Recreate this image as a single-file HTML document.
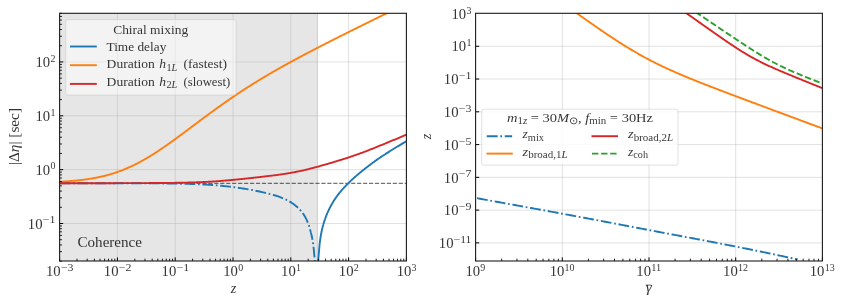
<!DOCTYPE html>
<html><head><meta charset="utf-8"><title>plot</title>
<style>html,body{margin:0;padding:0;background:#fff;}body{width:843px;height:304px;position:relative;overflow:hidden;font-family:"Liberation Serif",serif;}</style>
</head><body>
<svg width="843" height="304" viewBox="0 0 843 304" style="position:absolute;left:0;top:0;opacity:0.999;will-change:transform">
<rect x="0" y="0" width="843" height="304" fill="#fff"/>
<defs>
<clipPath id="cl"><rect x="59.6" y="13.3" width="346.79999999999995" height="247.7"/></clipPath>
<clipPath id="cr"><rect x="475.6" y="13.3" width="346.79999999999995" height="247.7"/></clipPath>
</defs>
<rect x="59.6" y="13.3" width="258.30" height="247.7" fill="#808080" fill-opacity="0.2"/>
<line x1="317.40" y1="13.3" x2="317.40" y2="261.0" stroke="#808080" stroke-opacity="0.2" stroke-width="1.2"/>
<line x1="117.40" y1="13.3" x2="117.40" y2="261.0" stroke="#b0b0b0" stroke-opacity="0.38" stroke-width="1"/>
<line x1="175.20" y1="13.3" x2="175.20" y2="261.0" stroke="#b0b0b0" stroke-opacity="0.38" stroke-width="1"/>
<line x1="233.00" y1="13.3" x2="233.00" y2="261.0" stroke="#b0b0b0" stroke-opacity="0.38" stroke-width="1"/>
<line x1="290.80" y1="13.3" x2="290.80" y2="261.0" stroke="#b0b0b0" stroke-opacity="0.38" stroke-width="1"/>
<line x1="348.60" y1="13.3" x2="348.60" y2="261.0" stroke="#b0b0b0" stroke-opacity="0.38" stroke-width="1"/>
<line x1="59.6" y1="223.50" x2="406.4" y2="223.50" stroke="#b0b0b0" stroke-opacity="0.38" stroke-width="1"/>
<line x1="59.6" y1="169.65" x2="406.4" y2="169.65" stroke="#b0b0b0" stroke-opacity="0.38" stroke-width="1"/>
<line x1="59.6" y1="115.80" x2="406.4" y2="115.80" stroke="#b0b0b0" stroke-opacity="0.38" stroke-width="1"/>
<line x1="59.6" y1="61.95" x2="406.4" y2="61.95" stroke="#b0b0b0" stroke-opacity="0.38" stroke-width="1"/>
<g clip-path="url(#cl)" fill="none" stroke-linejoin="round">
<line x1="59.6" y1="183.4" x2="406.4" y2="183.4" stroke="#000" stroke-opacity="0.55" stroke-width="1.1" stroke-dasharray="4.15 1.8"/>
<path d="M59.60,183.21 L60.85,183.21 L62.10,183.21 L63.35,183.21 L64.60,183.21 L65.84,183.22 L67.09,183.22 L68.34,183.22 L69.59,183.22 L70.84,183.22 L72.09,183.22 L73.34,183.22 L74.59,183.22 L75.84,183.22 L77.09,183.22 L78.33,183.22 L79.58,183.22 L80.83,183.22 L82.08,183.22 L83.33,183.22 L84.58,183.22 L85.83,183.22 L87.08,183.22 L88.33,183.22 L89.57,183.22 L90.82,183.22 L92.07,183.22 L93.32,183.23 L94.57,183.23 L95.82,183.23 L97.07,183.23 L98.32,183.23 L99.57,183.23 L100.82,183.23 L102.06,183.23 L103.31,183.23 L104.56,183.23 L105.81,183.23 L107.06,183.24 L108.31,183.24 L109.56,183.24 L110.81,183.24 L112.06,183.24 L113.30,183.24 L114.55,183.25 L115.80,183.25 L117.05,183.25 L118.30,183.25 L119.55,183.25 L120.80,183.25 L122.05,183.26 L123.30,183.26 L124.55,183.26 L125.79,183.26 L127.04,183.27 L128.29,183.27 L129.54,183.27 L130.79,183.28 L132.04,183.28 L133.29,183.28 L134.54,183.29 L135.79,183.29 L137.03,183.30 L138.28,183.30 L139.53,183.30 L140.78,183.31 L142.03,183.31 L143.28,183.32 L144.53,183.33 L145.78,183.33 L147.03,183.34 L148.28,183.34 L149.52,183.35 L150.77,183.36 L152.02,183.37 L153.27,183.37 L154.52,183.38 L155.77,183.39 L157.02,183.40 L158.27,183.41 L159.52,183.42 L160.76,183.43 L162.01,183.44 L163.26,183.45 L164.51,183.47 L165.76,183.48 L167.01,183.49 L168.26,183.51 L169.51,183.52 L170.76,183.54 L172.01,183.56 L173.25,183.58 L174.50,183.59 L175.75,183.61 L177.00,183.63 L178.25,183.66 L179.50,183.68 L180.75,183.70 L182.00,183.73 L183.25,183.76 L184.49,183.78 L185.74,183.81 L186.99,183.84 L188.24,183.88 L189.49,183.91 L190.74,183.95 L191.99,183.99 L193.24,184.03 L194.49,184.07 L195.73,184.11 L196.98,184.16 L198.23,184.21 L199.48,184.26 L200.73,184.32 L201.98,184.37 L203.23,184.43 L204.48,184.50 L205.73,184.56 L206.98,184.64 L208.22,184.71 L209.47,184.79 L210.72,184.87 L211.97,184.96 L213.22,185.05 L214.47,185.15 L215.72,185.25 L216.97,185.35 L218.22,185.46 L219.46,185.58 L220.71,185.70 L221.96,185.82 L223.21,185.95 L224.46,186.08 L225.71,186.22 L226.96,186.36 L228.21,186.51 L229.46,186.66 L230.71,186.81 L231.95,186.97 L233.20,187.13 L234.45,187.29 L235.70,187.46 L236.95,187.63 L238.20,187.81 L239.45,187.98 L240.70,188.16 L241.95,188.35 L243.19,188.54 L244.44,188.73 L245.69,188.93 L246.94,189.13 L248.19,189.34 L249.44,189.56 L250.69,189.78 L251.94,190.00 L253.19,190.23 L254.44,190.47 L255.68,190.72 L256.93,190.97 L258.18,191.24 L259.43,191.51 L260.68,191.79 L261.93,192.08 L263.18,192.38 L264.43,192.68 L265.68,192.98 L266.92,193.28 L268.17,193.59 L269.42,193.90 L270.67,194.21 L271.92,194.53 L273.17,194.87 L274.42,195.22 L275.67,195.59 L276.92,195.97 L278.17,196.39 L279.41,196.83 L280.66,197.30 L281.91,197.80 L283.16,198.31 L284.41,198.85 L285.66,199.43 L286.91,200.03 L288.16,200.68 L289.41,201.37 L290.65,202.12 L291.90,202.93 L293.15,203.79 L294.40,204.71 L295.65,205.71 L296.90,206.78 L298.15,207.95 L299.40,209.21 L300.65,210.59 L301.90,212.10 L303.14,213.77 L304.39,215.64 L305.64,217.80 L306.89,220.33 L308.14,223.29 L308.14,223.29 L308.17,223.36 L308.19,223.43 L308.22,223.50 L308.25,223.57 L308.27,223.64 L308.30,223.71 L308.33,223.78 L308.35,223.85 L308.38,223.92 L308.40,224.00 L308.43,224.07 L308.46,224.14 L308.48,224.21 L308.51,224.29 L308.54,224.36 L308.56,224.44 L308.59,224.51 L308.62,224.59 L308.64,224.66 L308.67,224.74 L308.70,224.82 L308.72,224.89 L308.75,224.97 L308.77,225.05 L308.80,225.13 L308.83,225.20 L308.85,225.28 L308.88,225.36 L308.91,225.44 L308.93,225.52 L308.96,225.60 L308.99,225.68 L309.01,225.76 L309.04,225.85 L309.07,225.93 L309.09,226.01 L309.12,226.09 L309.14,226.18 L309.17,226.26 L309.20,226.35 L309.22,226.43 L309.25,226.52 L309.28,226.60 L309.30,226.69 L309.33,226.77 L309.36,226.86 L309.38,226.95 L309.41,227.03 L309.44,227.12 L309.46,227.21 L309.49,227.30 L309.51,227.39 L309.54,227.48 L309.57,227.57 L309.59,227.66 L309.62,227.75 L309.65,227.84 L309.67,227.93 L309.70,228.02 L309.73,228.12 L309.75,228.21 L309.78,228.30 L309.81,228.40 L309.83,228.49 L309.86,228.58 L309.88,228.68 L309.91,228.77 L309.94,228.87 L309.96,228.96 L309.99,229.06 L310.02,229.16 L310.04,229.25 L310.07,229.35 L310.10,229.45 L310.12,229.55 L310.15,229.65 L310.18,229.75 L310.20,229.84 L310.23,229.94 L310.25,230.04 L310.28,230.14 L310.31,230.25 L310.33,230.35 L310.36,230.45 L310.39,230.55 L310.41,230.65 L310.44,230.76 L310.47,230.86 L310.49,230.96 L310.52,231.07 L310.55,231.17 L310.57,231.27 L310.60,231.38 L310.62,231.48 L310.65,231.59 L310.68,231.70 L310.70,231.80 L310.73,231.91 L310.76,232.02 L310.78,232.12 L310.81,232.23 L310.84,232.34 L310.86,232.45 L310.89,232.56 L310.92,232.66 L310.94,232.77 L310.97,232.88 L310.99,232.99 L311.02,233.10 L311.05,233.21 L311.07,233.32 L311.10,233.44 L311.13,233.55 L311.15,233.66 L311.18,233.77 L311.21,233.88 L311.23,233.99 L311.26,234.11 L311.29,234.22 L311.31,234.33 L311.34,234.45 L311.36,234.56 L311.39,234.68 L311.42,234.79 L311.44,234.90 L311.47,235.02 L311.50,235.14 L311.52,235.25 L311.55,235.37 L311.58,235.48 L311.60,235.60 L311.63,235.72 L311.66,235.84 L311.68,235.96 L311.71,236.08 L311.73,236.20 L311.76,236.32 L311.79,236.44 L311.81,236.56 L311.84,236.68 L311.87,236.81 L311.89,236.93 L311.92,237.05 L311.95,237.18 L311.97,237.30 L312.00,237.43 L312.03,237.56 L312.05,237.68 L312.08,237.81 L312.10,237.94 L312.13,238.07 L312.16,238.20 L312.18,238.33 L312.21,238.46 L312.24,238.59 L312.26,238.73 L312.29,238.86 L312.32,239.00 L312.34,239.13 L312.37,239.27 L312.40,239.41 L312.42,239.55 L312.45,239.68 L312.47,239.82 L312.50,239.97 L312.53,240.11 L312.55,240.25 L312.58,240.40 L312.61,240.54 L312.63,240.69 L312.66,240.83 L312.69,240.98 L312.71,241.13 L312.74,241.28 L312.77,241.43 L312.79,241.59 L312.82,241.74 L312.84,241.90 L312.87,242.05 L312.90,242.21 L312.92,242.37 L312.95,242.53 L312.98,242.69 L313.00,242.86 L313.03,243.02 L313.06,243.19 L313.08,243.36 L313.11,243.53 L313.14,243.70 L313.16,243.87 L313.19,244.04 L313.21,244.22 L313.24,244.40 L313.27,244.58 L313.29,244.76 L313.32,244.94 L313.35,245.13 L313.37,245.31 L313.40,245.50 L314.70,259.40 L315.30,276.00" stroke="#1f77b4" stroke-width="1.9" stroke-dasharray="10.75 2.7 1.7 2.7"/>
<path d="M317.70,276.00 L318.30,259.40 L319.60,244.17 L319.63,243.93 L319.66,243.68 L319.69,243.44 L319.72,243.20 L319.75,242.97 L319.78,242.73 L319.81,242.50 L319.84,242.27 L319.87,242.04 L319.90,241.81 L319.93,241.59 L319.95,241.36 L319.98,241.14 L320.01,240.93 L320.04,240.71 L320.07,240.49 L320.10,240.28 L320.13,240.07 L320.16,239.86 L320.19,239.65 L320.22,239.45 L320.25,239.24 L320.28,239.04 L320.31,238.84 L320.34,238.64 L320.37,238.45 L320.40,238.25 L320.43,238.06 L320.46,237.86 L320.49,237.67 L320.52,237.48 L320.55,237.30 L320.58,237.11 L320.60,236.92 L320.63,236.74 L320.66,236.56 L320.69,236.38 L320.72,236.20 L320.75,236.02 L320.78,235.84 L320.81,235.67 L320.84,235.50 L320.87,235.32 L320.90,235.15 L320.93,234.98 L320.96,234.81 L320.99,234.65 L321.02,234.48 L321.05,234.32 L321.08,234.15 L321.11,233.99 L321.14,233.83 L321.17,233.67 L321.20,233.51 L321.23,233.35 L321.25,233.20 L321.28,233.04 L321.31,232.89 L321.34,232.73 L321.37,232.58 L321.40,232.43 L321.43,232.28 L321.46,232.13 L321.49,231.98 L321.52,231.84 L321.55,231.69 L321.58,231.55 L321.61,231.40 L321.64,231.26 L321.67,231.12 L321.70,230.98 L321.73,230.84 L321.76,230.70 L321.79,230.56 L321.82,230.43 L321.85,230.29 L321.88,230.16 L321.90,230.02 L321.93,229.89 L321.96,229.76 L321.99,229.63 L322.02,229.50 L322.05,229.37 L322.08,229.24 L322.11,229.11 L322.14,228.99 L322.17,228.86 L322.20,228.73 L322.23,228.61 L322.26,228.49 L322.29,228.37 L322.32,228.24 L322.35,228.12 L322.38,228.00 L322.41,227.88 L322.44,227.77 L322.47,227.65 L322.50,227.53 L322.53,227.42 L322.55,227.30 L322.58,227.19 L322.61,227.07 L322.64,226.96 L322.67,226.85 L322.70,226.73 L322.73,226.62 L322.76,226.51 L322.79,226.40 L322.82,226.29 L322.85,226.18 L322.88,226.07 L322.91,225.96 L322.94,225.85 L322.97,225.74 L323.00,225.63 L323.03,225.52 L323.06,225.42 L323.09,225.31 L323.12,225.20 L323.15,225.10 L323.18,224.99 L323.20,224.89 L323.23,224.78 L323.26,224.68 L323.29,224.57 L323.32,224.47 L323.35,224.37 L323.38,224.26 L323.41,224.16 L323.44,224.06 L323.47,223.96 L323.50,223.86 L323.53,223.76 L323.56,223.66 L323.59,223.56 L323.62,223.46 L323.65,223.36 L323.68,223.26 L323.71,223.16 L323.74,223.06 L323.77,222.97 L323.80,222.87 L323.83,222.77 L323.85,222.67 L323.88,222.58 L323.91,222.48 L323.94,222.39 L323.97,222.29 L324.00,222.20 L324.03,222.10 L324.06,222.01 L324.09,221.91 L324.12,221.82 L324.15,221.73 L324.18,221.63 L324.21,221.54 L324.24,221.45 L324.27,221.36 L324.30,221.27 L324.33,221.17 L324.36,221.08 L324.39,220.99 L324.42,220.90 L324.45,220.81 L324.48,220.72 L324.50,220.63 L324.53,220.54 L324.56,220.45 L324.59,220.36 L324.62,220.28 L324.65,220.19 L324.68,220.10 L324.71,220.01 L324.74,219.93 L324.77,219.84 L324.80,219.75 L324.83,219.67 L324.86,219.58 L324.89,219.49 L324.92,219.41 L324.95,219.32 L324.98,219.24 L325.01,219.15 L325.04,219.07 L325.07,218.98 L325.10,218.90 L325.13,218.82 L325.15,218.73 L325.18,218.65 L325.21,218.56 L325.24,218.48 L325.27,218.40 L325.30,218.32 L325.33,218.24 L325.36,218.15 L325.39,218.07 L325.42,217.99 L325.45,217.91 L325.48,217.83 L325.48,217.83 L325.89,216.74 L326.29,215.69 L326.70,214.67 L327.11,213.69 L327.51,212.75 L327.92,211.83 L328.33,210.93 L328.73,210.07 L329.14,209.22 L329.55,208.40 L329.95,207.60 L330.36,206.82 L330.77,206.05 L331.17,205.30 L331.58,204.57 L331.99,203.85 L332.39,203.15 L332.80,202.47 L333.21,201.79 L333.61,201.13 L334.02,200.49 L334.43,199.85 L334.83,199.23 L335.24,198.61 L335.65,198.01 L336.05,197.42 L336.46,196.84 L336.87,196.27 L337.27,195.71 L337.68,195.16 L338.09,194.61 L338.49,194.08 L338.90,193.55 L339.31,193.04 L339.71,192.53 L340.12,192.03 L340.53,191.55 L340.93,191.07 L341.34,190.60 L341.75,190.13 L342.15,189.68 L342.56,189.23 L342.97,188.78 L343.37,188.34 L343.78,187.91 L344.19,187.48 L344.59,187.05 L345.00,186.63 L345.41,186.21 L345.81,185.79 L346.22,185.37 L346.62,184.96 L347.03,184.55 L347.44,184.14 L347.84,183.73 L348.25,183.33 L348.66,182.92 L349.06,182.51 L349.47,182.11 L349.88,181.71 L350.28,181.32 L350.69,180.93 L351.10,180.54 L351.50,180.16 L351.91,179.77 L352.32,179.39 L352.72,179.02 L353.13,178.64 L353.54,178.27 L353.94,177.90 L354.35,177.54 L354.76,177.17 L355.16,176.81 L355.57,176.45 L355.98,176.10 L356.38,175.74 L356.79,175.39 L357.20,175.04 L357.60,174.69 L358.01,174.35 L358.42,174.01 L358.82,173.66 L359.23,173.32 L359.64,172.99 L360.04,172.65 L360.45,172.32 L360.86,171.99 L361.26,171.66 L361.67,171.33 L362.08,171.00 L362.48,170.68 L362.89,170.35 L363.30,170.03 L363.70,169.71 L364.11,169.39 L364.52,169.07 L364.92,168.76 L365.33,168.44 L365.74,168.12 L366.14,167.80 L366.55,167.49 L366.96,167.17 L367.36,166.86 L367.77,166.54 L368.18,166.23 L368.58,165.92 L368.99,165.61 L369.40,165.30 L369.80,164.99 L370.21,164.68 L370.62,164.37 L371.02,164.06 L371.43,163.76 L371.84,163.45 L372.24,163.15 L372.65,162.85 L373.06,162.55 L373.46,162.25 L373.87,161.95 L374.28,161.65 L374.68,161.36 L375.09,161.06 L375.50,160.77 L375.90,160.48 L376.31,160.19 L376.72,159.90 L377.12,159.62 L377.53,159.33 L377.94,159.05 L378.34,158.77 L378.75,158.49 L379.16,158.21 L379.56,157.94 L379.97,157.66 L380.38,157.39 L380.78,157.12 L381.19,156.85 L381.60,156.58 L382.00,156.31 L382.41,156.04 L382.82,155.77 L383.22,155.50 L383.63,155.24 L384.04,154.97 L384.44,154.71 L384.85,154.44 L385.26,154.18 L385.66,153.91 L386.07,153.65 L386.47,153.39 L386.88,153.13 L387.29,152.87 L387.69,152.61 L388.10,152.35 L388.51,152.09 L388.91,151.83 L389.32,151.58 L389.73,151.32 L390.13,151.06 L390.54,150.81 L390.95,150.55 L391.35,150.30 L391.76,150.05 L392.17,149.79 L392.57,149.54 L392.98,149.29 L393.39,149.04 L393.79,148.79 L394.20,148.54 L394.61,148.29 L395.01,148.04 L395.42,147.79 L395.83,147.54 L396.23,147.29 L396.64,147.05 L397.05,146.80 L397.45,146.55 L397.86,146.31 L398.27,146.06 L398.67,145.82 L399.08,145.57 L399.49,145.33 L399.89,145.09 L400.30,144.85 L400.71,144.60 L401.11,144.36 L401.52,144.12 L401.93,143.88 L402.33,143.64 L402.74,143.40 L403.15,143.16 L403.55,142.92 L403.96,142.68 L404.37,142.45 L404.77,142.21 L405.18,141.97 L405.59,141.73 L405.99,141.50 L406.40,141.26" stroke="#1f77b4" stroke-width="1.9"/>
<path d="M59.60,181.79 L60.18,181.76 L60.76,181.73 L61.33,181.70 L61.91,181.66 L62.49,181.63 L63.07,181.59 L63.65,181.56 L64.22,181.52 L64.80,181.48 L65.38,181.44 L65.96,181.40 L66.54,181.36 L67.11,181.32 L67.69,181.28 L68.27,181.24 L68.85,181.19 L69.43,181.15 L70.00,181.10 L70.58,181.06 L71.16,181.01 L71.74,180.96 L72.32,180.91 L72.89,180.86 L73.47,180.81 L74.05,180.75 L74.63,180.70 L75.21,180.65 L75.78,180.59 L76.36,180.53 L76.94,180.47 L77.52,180.41 L78.10,180.35 L78.67,180.29 L79.25,180.23 L79.83,180.16 L80.41,180.10 L80.99,180.03 L81.56,179.96 L82.14,179.89 L82.72,179.82 L83.30,179.74 L83.88,179.67 L84.45,179.59 L85.03,179.52 L85.61,179.44 L86.19,179.36 L86.77,179.27 L87.34,179.19 L87.92,179.11 L88.50,179.02 L89.08,178.93 L89.66,178.84 L90.23,178.75 L90.81,178.65 L91.39,178.56 L91.97,178.46 L92.55,178.36 L93.12,178.26 L93.70,178.16 L94.28,178.05 L94.86,177.95 L95.44,177.84 L96.01,177.73 L96.59,177.62 L97.17,177.50 L97.75,177.38 L98.33,177.27 L98.90,177.15 L99.48,177.02 L100.06,176.90 L100.64,176.77 L101.22,176.64 L101.79,176.51 L102.37,176.37 L102.95,176.24 L103.53,176.10 L104.11,175.96 L104.68,175.82 L105.26,175.67 L105.84,175.52 L106.42,175.37 L107.00,175.22 L107.57,175.06 L108.15,174.91 L108.73,174.75 L109.31,174.58 L109.89,174.42 L110.46,174.25 L111.04,174.08 L111.62,173.91 L112.20,173.73 L112.78,173.55 L113.35,173.37 L113.93,173.19 L114.51,173.00 L115.09,172.81 L115.67,172.62 L116.24,172.43 L116.82,172.23 L117.40,172.03 L117.98,171.83 L118.56,171.62 L119.13,171.41 L119.71,171.20 L120.29,170.99 L120.87,170.77 L121.45,170.55 L122.02,170.33 L122.60,170.10 L123.18,169.88 L123.76,169.64 L124.34,169.41 L124.91,169.17 L125.49,168.93 L126.07,168.69 L126.65,168.45 L127.23,168.20 L127.80,167.95 L128.38,167.69 L128.96,167.44 L129.54,167.18 L130.12,166.91 L130.69,166.65 L131.27,166.38 L131.85,166.11 L132.43,165.84 L133.01,165.56 L133.58,165.28 L134.16,165.00 L134.74,164.71 L135.32,164.42 L135.90,164.13 L136.47,163.84 L137.05,163.54 L137.63,163.24 L138.21,162.94 L138.79,162.64 L139.36,162.33 L139.94,162.02 L140.52,161.71 L141.10,161.39 L141.68,161.08 L142.25,160.76 L142.83,160.43 L143.41,160.11 L143.99,159.78 L144.57,159.45 L145.14,159.12 L145.72,158.78 L146.30,158.44 L146.88,158.10 L147.46,157.76 L148.03,157.42 L148.61,157.07 L149.19,156.72 L149.77,156.37 L150.35,156.01 L150.92,155.66 L151.50,155.30 L152.08,154.94 L152.66,154.58 L153.24,154.21 L153.81,153.85 L154.39,153.48 L154.97,153.11 L155.55,152.73 L156.13,152.36 L156.70,151.98 L157.28,151.60 L157.86,151.22 L158.44,150.84 L159.02,150.46 L159.59,150.07 L160.17,149.68 L160.75,149.29 L161.33,148.90 L161.91,148.51 L162.48,148.12 L163.06,147.72 L163.64,147.32 L164.22,146.93 L164.80,146.53 L165.37,146.12 L165.95,145.72 L166.53,145.32 L167.11,144.91 L167.69,144.51 L168.26,144.10 L168.84,143.69 L169.42,143.28 L170.00,142.87 L170.58,142.45 L171.15,142.04 L171.73,141.62 L172.31,141.21 L172.89,140.79 L173.47,140.37 L174.04,139.96 L174.62,139.54 L175.20,139.12 L175.78,138.69 L176.36,138.27 L176.93,137.85 L177.51,137.43 L178.09,137.00 L178.67,136.58 L179.25,136.15 L179.82,135.72 L180.40,135.30 L180.98,134.87 L181.56,134.44 L182.14,134.01 L182.71,133.58 L183.29,133.15 L183.87,132.72 L184.45,132.29 L185.03,131.86 L185.60,131.43 L186.18,131.00 L186.76,130.57 L187.34,130.14 L187.92,129.71 L188.49,129.27 L189.07,128.84 L189.65,128.41 L190.23,127.98 L190.81,127.54 L191.38,127.11 L191.96,126.68 L192.54,126.24 L193.12,125.81 L193.70,125.38 L194.27,124.95 L194.85,124.51 L195.43,124.08 L196.01,123.65 L196.59,123.21 L197.16,122.78 L197.74,122.35 L198.32,121.92 L198.90,121.49 L199.48,121.05 L200.05,120.62 L200.63,120.19 L201.21,119.76 L201.79,119.33 L202.37,118.90 L202.94,118.47 L203.52,118.04 L204.10,117.61 L204.68,117.18 L205.26,116.75 L205.83,116.33 L206.41,115.90 L206.99,115.47 L207.57,115.05 L208.15,114.62 L208.72,114.19 L209.30,113.77 L209.88,113.34 L210.46,112.92 L211.04,112.50 L211.61,112.08 L212.19,111.65 L212.77,111.23 L213.35,110.81 L213.93,110.39 L214.50,109.97 L215.08,109.55 L215.66,109.13 L216.24,108.72 L216.82,108.30 L217.39,107.88 L217.97,107.47 L218.55,107.05 L219.13,106.64 L219.71,106.23 L220.28,105.82 L220.86,105.40 L221.44,104.99 L222.02,104.58 L222.60,104.17 L223.17,103.77 L223.75,103.36 L224.33,102.95 L224.91,102.55 L225.49,102.14 L226.06,101.74 L226.64,101.33 L227.22,100.93 L227.80,100.53 L228.38,100.13 L228.95,99.73 L229.53,99.33 L230.11,98.93 L230.69,98.54 L231.27,98.14 L231.84,97.74 L232.42,97.35 L233.00,96.96 L233.58,96.56 L234.16,96.17 L234.73,95.78 L235.31,95.39 L235.89,95.00 L236.47,94.62 L237.05,94.23 L237.62,93.84 L238.20,93.46 L238.78,93.07 L239.36,92.69 L239.94,92.31 L240.51,91.93 L241.09,91.54 L241.67,91.17 L242.25,90.79 L242.83,90.41 L243.40,90.03 L243.98,89.66 L244.56,89.28 L245.14,88.91 L245.72,88.53 L246.29,88.16 L246.87,87.79 L247.45,87.42 L248.03,87.05 L248.61,86.68 L249.18,86.32 L249.76,85.95 L250.34,85.58 L250.92,85.22 L251.50,84.85 L252.07,84.49 L252.65,84.13 L253.23,83.77 L253.81,83.41 L254.39,83.05 L254.96,82.69 L255.54,82.33 L256.12,81.97 L256.70,81.62 L257.28,81.26 L257.85,80.91 L258.43,80.56 L259.01,80.20 L259.59,79.85 L260.17,79.50 L260.74,79.15 L261.32,78.80 L261.90,78.45 L262.48,78.10 L263.06,77.76 L263.63,77.41 L264.21,77.07 L264.79,76.72 L265.37,76.38 L265.95,76.04 L266.52,75.69 L267.10,75.35 L267.68,75.01 L268.26,74.67 L268.84,74.33 L269.41,73.99 L269.99,73.66 L270.57,73.32 L271.15,72.98 L271.73,72.65 L272.30,72.31 L272.88,71.98 L273.46,71.65 L274.04,71.31 L274.62,70.98 L275.19,70.65 L275.77,70.32 L276.35,69.99 L276.93,69.66 L277.51,69.33 L278.08,69.01 L278.66,68.68 L279.24,68.35 L279.82,68.03 L280.40,67.70 L280.97,67.38 L281.55,67.05 L282.13,66.73 L282.71,66.40 L283.29,66.08 L283.86,65.76 L284.44,65.44 L285.02,65.12 L285.60,64.80 L286.18,64.48 L286.75,64.16 L287.33,63.84 L287.91,63.52 L288.49,63.21 L289.07,62.89 L289.64,62.57 L290.22,62.26 L290.80,61.94 L291.38,61.63 L291.96,61.31 L292.53,61.00 L293.11,60.69 L293.69,60.37 L294.27,60.06 L294.85,59.75 L295.42,59.44 L296.00,59.13 L296.58,58.81 L297.16,58.50 L297.74,58.19 L298.31,57.89 L298.89,57.58 L299.47,57.27 L300.05,56.96 L300.63,56.65 L301.20,56.34 L301.78,56.04 L302.36,55.73 L302.94,55.43 L303.52,55.12 L304.09,54.81 L304.67,54.51 L305.25,54.20 L305.83,53.90 L306.41,53.60 L306.98,53.29 L307.56,52.99 L308.14,52.69 L308.72,52.38 L309.30,52.08 L309.87,51.78 L310.45,51.48 L311.03,51.18 L311.61,50.88 L312.19,50.58 L312.76,50.28 L313.34,49.98 L313.92,49.68 L314.50,49.38 L315.08,49.08 L315.65,48.78 L316.23,48.48 L316.81,48.18 L317.39,47.88 L317.97,47.58 L318.54,47.29 L319.12,46.99 L319.70,46.69 L320.28,46.40 L320.86,46.10 L321.43,45.80 L322.01,45.51 L322.59,45.21 L323.17,44.92 L323.75,44.62 L324.32,44.33 L324.90,44.03 L325.48,43.74 L326.06,43.44 L326.64,43.15 L327.21,42.85 L327.79,42.56 L328.37,42.26 L328.95,41.97 L329.53,41.68 L330.10,41.38 L330.68,41.09 L331.26,40.80 L331.84,40.51 L332.42,40.21 L332.99,39.92 L333.57,39.63 L334.15,39.34 L334.73,39.05 L335.31,38.75 L335.88,38.46 L336.46,38.17 L337.04,37.88 L337.62,37.59 L338.20,37.30 L338.77,37.01 L339.35,36.72 L339.93,36.43 L340.51,36.14 L341.09,35.85 L341.66,35.56 L342.24,35.27 L342.82,34.98 L343.40,34.69 L343.98,34.40 L344.55,34.11 L345.13,33.82 L345.71,33.53 L346.29,33.24 L346.87,32.96 L347.44,32.67 L348.02,32.38 L348.60,32.09 L349.18,31.80 L349.76,31.51 L350.33,31.23 L350.91,30.94 L351.49,30.65 L352.07,30.36 L352.65,30.07 L353.22,29.79 L353.80,29.50 L354.38,29.21 L354.96,28.92 L355.54,28.64 L356.11,28.35 L356.69,28.06 L357.27,27.78 L357.85,27.49 L358.43,27.20 L359.00,26.92 L359.58,26.63 L360.16,26.34 L360.74,26.06 L361.32,25.77 L361.89,25.48 L362.47,25.20 L363.05,24.91 L363.63,24.63 L364.21,24.34 L364.78,24.05 L365.36,23.77 L365.94,23.48 L366.52,23.20 L367.10,22.91 L367.67,22.63 L368.25,22.34 L368.83,22.06 L369.41,21.77 L369.99,21.49 L370.56,21.20 L371.14,20.91 L371.72,20.63 L372.30,20.34 L372.88,20.06 L373.45,19.77 L374.03,19.49 L374.61,19.20 L375.19,18.92 L375.77,18.64 L376.34,18.35 L376.92,18.07 L377.50,17.78 L378.08,17.50 L378.66,17.21 L379.23,16.93 L379.81,16.64 L380.39,16.36 L380.97,16.08 L381.55,15.79 L382.12,15.51 L382.70,15.22 L383.28,14.94 L383.86,14.65 L384.44,14.37 L385.01,14.09 L385.59,13.80 L386.17,13.52 L386.75,13.23 L387.33,12.95 L387.90,12.67 L388.48,12.38 L389.06,12.10 L389.64,11.82 L390.22,11.53 L390.79,11.25 L391.37,10.97 L391.95,10.68 L392.53,10.40 L393.11,10.11 L393.68,9.83 L394.26,9.55 L394.84,9.26 L395.42,8.98 L396.00,8.70 L396.57,8.41 L397.15,8.13 L397.73,7.85 L398.31,7.56 L398.89,7.28 L399.46,7.00 L400.04,6.71 L400.62,6.43 L401.20,6.15 L401.78,5.87 L402.35,5.58 L402.93,5.30 L403.51,5.02 L404.09,4.73 L404.67,4.45 L405.24,4.17 L405.82,3.88 L406.40,3.60" stroke="#ff7f0e" stroke-width="1.9"/>
<path d="M59.60,183.21 L60.18,183.21 L60.76,183.21 L61.33,183.21 L61.91,183.21 L62.49,183.21 L63.07,183.21 L63.65,183.21 L64.22,183.21 L64.80,183.21 L65.38,183.21 L65.96,183.21 L66.54,183.20 L67.11,183.20 L67.69,183.20 L68.27,183.20 L68.85,183.20 L69.43,183.20 L70.00,183.20 L70.58,183.20 L71.16,183.20 L71.74,183.20 L72.32,183.20 L72.89,183.20 L73.47,183.20 L74.05,183.20 L74.63,183.20 L75.21,183.20 L75.78,183.20 L76.36,183.20 L76.94,183.20 L77.52,183.20 L78.10,183.20 L78.67,183.20 L79.25,183.20 L79.83,183.20 L80.41,183.20 L80.99,183.20 L81.56,183.20 L82.14,183.20 L82.72,183.20 L83.30,183.20 L83.88,183.20 L84.45,183.20 L85.03,183.20 L85.61,183.20 L86.19,183.20 L86.77,183.20 L87.34,183.20 L87.92,183.20 L88.50,183.20 L89.08,183.20 L89.66,183.20 L90.23,183.20 L90.81,183.20 L91.39,183.20 L91.97,183.20 L92.55,183.20 L93.12,183.20 L93.70,183.19 L94.28,183.19 L94.86,183.19 L95.44,183.19 L96.01,183.19 L96.59,183.19 L97.17,183.19 L97.75,183.19 L98.33,183.19 L98.90,183.19 L99.48,183.19 L100.06,183.19 L100.64,183.19 L101.22,183.19 L101.79,183.19 L102.37,183.19 L102.95,183.19 L103.53,183.19 L104.11,183.19 L104.68,183.19 L105.26,183.19 L105.84,183.19 L106.42,183.18 L107.00,183.18 L107.57,183.18 L108.15,183.18 L108.73,183.18 L109.31,183.18 L109.89,183.18 L110.46,183.18 L111.04,183.18 L111.62,183.18 L112.20,183.18 L112.78,183.18 L113.35,183.18 L113.93,183.18 L114.51,183.18 L115.09,183.17 L115.67,183.17 L116.24,183.17 L116.82,183.17 L117.40,183.17 L117.98,183.17 L118.56,183.17 L119.13,183.17 L119.71,183.17 L120.29,183.17 L120.87,183.17 L121.45,183.16 L122.02,183.16 L122.60,183.16 L123.18,183.16 L123.76,183.16 L124.34,183.16 L124.91,183.16 L125.49,183.16 L126.07,183.15 L126.65,183.15 L127.23,183.15 L127.80,183.15 L128.38,183.15 L128.96,183.15 L129.54,183.15 L130.12,183.15 L130.69,183.14 L131.27,183.14 L131.85,183.14 L132.43,183.14 L133.01,183.14 L133.58,183.14 L134.16,183.13 L134.74,183.13 L135.32,183.13 L135.90,183.13 L136.47,183.13 L137.05,183.12 L137.63,183.12 L138.21,183.12 L138.79,183.12 L139.36,183.12 L139.94,183.11 L140.52,183.11 L141.10,183.11 L141.68,183.11 L142.25,183.10 L142.83,183.10 L143.41,183.10 L143.99,183.10 L144.57,183.09 L145.14,183.09 L145.72,183.09 L146.30,183.09 L146.88,183.08 L147.46,183.08 L148.03,183.08 L148.61,183.07 L149.19,183.07 L149.77,183.07 L150.35,183.06 L150.92,183.06 L151.50,183.06 L152.08,183.05 L152.66,183.05 L153.24,183.05 L153.81,183.04 L154.39,183.04 L154.97,183.04 L155.55,183.03 L156.13,183.03 L156.70,183.02 L157.28,183.02 L157.86,183.01 L158.44,183.01 L159.02,183.01 L159.59,183.00 L160.17,183.00 L160.75,182.99 L161.33,182.99 L161.91,182.98 L162.48,182.98 L163.06,182.97 L163.64,182.96 L164.22,182.96 L164.80,182.95 L165.37,182.95 L165.95,182.94 L166.53,182.93 L167.11,182.93 L167.69,182.92 L168.26,182.91 L168.84,182.91 L169.42,182.90 L170.00,182.89 L170.58,182.89 L171.15,182.88 L171.73,182.87 L172.31,182.86 L172.89,182.86 L173.47,182.85 L174.04,182.84 L174.62,182.83 L175.20,182.82 L175.78,182.81 L176.36,182.80 L176.93,182.79 L177.51,182.78 L178.09,182.77 L178.67,182.76 L179.25,182.75 L179.82,182.74 L180.40,182.73 L180.98,182.72 L181.56,182.71 L182.14,182.70 L182.71,182.69 L183.29,182.68 L183.87,182.66 L184.45,182.65 L185.03,182.64 L185.60,182.62 L186.18,182.61 L186.76,182.60 L187.34,182.58 L187.92,182.57 L188.49,182.55 L189.07,182.54 L189.65,182.52 L190.23,182.51 L190.81,182.49 L191.38,182.48 L191.96,182.46 L192.54,182.44 L193.12,182.42 L193.70,182.41 L194.27,182.39 L194.85,182.37 L195.43,182.35 L196.01,182.33 L196.59,182.31 L197.16,182.29 L197.74,182.27 L198.32,182.25 L198.90,182.23 L199.48,182.20 L200.05,182.18 L200.63,182.16 L201.21,182.14 L201.79,182.11 L202.37,182.09 L202.94,182.06 L203.52,182.03 L204.10,182.01 L204.68,181.98 L205.26,181.95 L205.83,181.92 L206.41,181.90 L206.99,181.87 L207.57,181.84 L208.15,181.80 L208.72,181.77 L209.30,181.74 L209.88,181.71 L210.46,181.67 L211.04,181.64 L211.61,181.61 L212.19,181.57 L212.77,181.53 L213.35,181.50 L213.93,181.46 L214.50,181.42 L215.08,181.38 L215.66,181.34 L216.24,181.30 L216.82,181.26 L217.39,181.22 L217.97,181.17 L218.55,181.13 L219.13,181.09 L219.71,181.04 L220.28,181.00 L220.86,180.95 L221.44,180.91 L222.02,180.86 L222.60,180.81 L223.17,180.76 L223.75,180.71 L224.33,180.66 L224.91,180.61 L225.49,180.56 L226.06,180.51 L226.64,180.46 L227.22,180.41 L227.80,180.36 L228.38,180.30 L228.95,180.25 L229.53,180.20 L230.11,180.14 L230.69,180.09 L231.27,180.04 L231.84,179.98 L232.42,179.93 L233.00,179.87 L233.58,179.82 L234.16,179.76 L234.73,179.71 L235.31,179.65 L235.89,179.60 L236.47,179.54 L237.05,179.48 L237.62,179.43 L238.20,179.37 L238.78,179.31 L239.36,179.26 L239.94,179.20 L240.51,179.14 L241.09,179.08 L241.67,179.03 L242.25,178.97 L242.83,178.91 L243.40,178.85 L243.98,178.79 L244.56,178.73 L245.14,178.67 L245.72,178.61 L246.29,178.55 L246.87,178.49 L247.45,178.43 L248.03,178.37 L248.61,178.31 L249.18,178.25 L249.76,178.19 L250.34,178.13 L250.92,178.06 L251.50,178.00 L252.07,177.94 L252.65,177.88 L253.23,177.81 L253.81,177.75 L254.39,177.68 L254.96,177.62 L255.54,177.55 L256.12,177.49 L256.70,177.42 L257.28,177.35 L257.85,177.28 L258.43,177.22 L259.01,177.15 L259.59,177.08 L260.17,177.01 L260.74,176.94 L261.32,176.87 L261.90,176.80 L262.48,176.73 L263.06,176.65 L263.63,176.58 L264.21,176.51 L264.79,176.44 L265.37,176.38 L265.95,176.31 L266.52,176.24 L267.10,176.17 L267.68,176.10 L268.26,176.04 L268.84,175.97 L269.41,175.90 L269.99,175.84 L270.57,175.77 L271.15,175.70 L271.73,175.64 L272.30,175.57 L272.88,175.50 L273.46,175.43 L274.04,175.36 L274.62,175.29 L275.19,175.22 L275.77,175.15 L276.35,175.07 L276.93,175.00 L277.51,174.92 L278.08,174.84 L278.66,174.76 L279.24,174.68 L279.82,174.60 L280.40,174.52 L280.97,174.43 L281.55,174.35 L282.13,174.26 L282.71,174.18 L283.29,174.09 L283.86,174.00 L284.44,173.92 L285.02,173.83 L285.60,173.74 L286.18,173.64 L286.75,173.55 L287.33,173.46 L287.91,173.36 L288.49,173.27 L289.07,173.17 L289.64,173.07 L290.22,172.97 L290.80,172.87 L291.38,172.76 L291.96,172.66 L292.53,172.55 L293.11,172.44 L293.69,172.33 L294.27,172.22 L294.85,172.11 L295.42,172.00 L296.00,171.89 L296.58,171.77 L297.16,171.66 L297.74,171.54 L298.31,171.43 L298.89,171.31 L299.47,171.19 L300.05,171.07 L300.63,170.94 L301.20,170.82 L301.78,170.70 L302.36,170.57 L302.94,170.45 L303.52,170.32 L304.09,170.19 L304.67,170.06 L305.25,169.92 L305.83,169.78 L306.41,169.64 L306.98,169.50 L307.56,169.35 L308.14,169.21 L308.72,169.06 L309.30,168.90 L309.87,168.74 L310.45,168.58 L311.03,168.42 L311.61,168.28 L312.19,168.13 L312.76,167.99 L313.34,167.84 L313.92,167.68 L314.50,167.51 L315.08,167.36 L315.65,167.22 L316.23,167.08 L316.81,166.93 L317.39,166.78 L317.97,166.64 L318.54,166.49 L319.12,166.30 L319.70,166.12 L320.28,165.95 L320.86,165.78 L321.43,165.61 L322.01,165.44 L322.59,165.28 L323.17,165.12 L323.75,164.96 L324.32,164.80 L324.90,164.64 L325.48,164.48 L326.06,164.32 L326.64,164.15 L327.21,163.99 L327.79,163.83 L328.37,163.66 L328.95,163.50 L329.53,163.33 L330.10,163.16 L330.68,162.99 L331.26,162.82 L331.84,162.65 L332.42,162.47 L332.99,162.30 L333.57,162.13 L334.15,161.95 L334.73,161.77 L335.31,161.60 L335.88,161.42 L336.46,161.24 L337.04,161.06 L337.62,160.88 L338.20,160.70 L338.77,160.52 L339.35,160.34 L339.93,160.16 L340.51,159.99 L341.09,159.81 L341.66,159.63 L342.24,159.45 L342.82,159.28 L343.40,159.10 L343.98,158.92 L344.55,158.74 L345.13,158.56 L345.71,158.38 L346.29,158.19 L346.87,158.01 L347.44,157.82 L348.02,157.63 L348.60,157.44 L349.18,157.24 L349.76,157.05 L350.33,156.85 L350.91,156.66 L351.49,156.46 L352.07,156.26 L352.65,156.06 L353.22,155.86 L353.80,155.66 L354.38,155.46 L354.96,155.26 L355.54,155.05 L356.11,154.85 L356.69,154.65 L357.27,154.44 L357.85,154.23 L358.43,154.03 L359.00,153.82 L359.58,153.61 L360.16,153.40 L360.74,153.19 L361.32,152.98 L361.89,152.77 L362.47,152.56 L363.05,152.35 L363.63,152.13 L364.21,151.92 L364.78,151.70 L365.36,151.49 L365.94,151.27 L366.52,151.04 L367.10,150.82 L367.67,150.60 L368.25,150.37 L368.83,150.15 L369.41,149.92 L369.99,149.69 L370.56,149.46 L371.14,149.23 L371.72,149.00 L372.30,148.76 L372.88,148.53 L373.45,148.30 L374.03,148.06 L374.61,147.83 L375.19,147.59 L375.77,147.36 L376.34,147.12 L376.92,146.89 L377.50,146.65 L378.08,146.42 L378.66,146.19 L379.23,145.95 L379.81,145.72 L380.39,145.49 L380.97,145.25 L381.55,145.02 L382.12,144.79 L382.70,144.55 L383.28,144.32 L383.86,144.08 L384.44,143.85 L385.01,143.61 L385.59,143.37 L386.17,143.13 L386.75,142.90 L387.33,142.66 L387.90,142.42 L388.48,142.18 L389.06,141.94 L389.64,141.70 L390.22,141.46 L390.79,141.21 L391.37,140.97 L391.95,140.73 L392.53,140.49 L393.11,140.24 L393.68,140.00 L394.26,139.76 L394.84,139.51 L395.42,139.27 L396.00,139.02 L396.57,138.77 L397.15,138.53 L397.73,138.28 L398.31,138.04 L398.89,137.79 L399.46,137.54 L400.04,137.29 L400.62,137.04 L401.20,136.80 L401.78,136.55 L402.35,136.30 L402.93,136.05 L403.51,135.80 L404.09,135.55 L404.67,135.30 L405.24,135.05 L405.82,134.80 L406.40,134.55" stroke="#d62728" stroke-width="1.9"/>
</g>
<line x1="59.6" y1="261.14" x2="61.9" y2="261.14" stroke="#000" stroke-width="0.9"/>
<line x1="59.6" y1="251.66" x2="61.9" y2="251.66" stroke="#000" stroke-width="0.9"/>
<line x1="59.6" y1="244.93" x2="61.9" y2="244.93" stroke="#000" stroke-width="0.9"/>
<line x1="59.6" y1="239.71" x2="61.9" y2="239.71" stroke="#000" stroke-width="0.9"/>
<line x1="59.6" y1="235.45" x2="61.9" y2="235.45" stroke="#000" stroke-width="0.9"/>
<line x1="59.6" y1="231.84" x2="61.9" y2="231.84" stroke="#000" stroke-width="0.9"/>
<line x1="59.6" y1="228.72" x2="61.9" y2="228.72" stroke="#000" stroke-width="0.9"/>
<line x1="59.6" y1="225.96" x2="61.9" y2="225.96" stroke="#000" stroke-width="0.9"/>
<line x1="59.6" y1="223.50" x2="63.2" y2="223.50" stroke="#000" stroke-width="1.0"/>
<line x1="59.6" y1="207.29" x2="61.9" y2="207.29" stroke="#000" stroke-width="0.9"/>
<line x1="59.6" y1="197.81" x2="61.9" y2="197.81" stroke="#000" stroke-width="0.9"/>
<line x1="59.6" y1="191.08" x2="61.9" y2="191.08" stroke="#000" stroke-width="0.9"/>
<line x1="59.6" y1="185.86" x2="61.9" y2="185.86" stroke="#000" stroke-width="0.9"/>
<line x1="59.6" y1="181.60" x2="61.9" y2="181.60" stroke="#000" stroke-width="0.9"/>
<line x1="59.6" y1="177.99" x2="61.9" y2="177.99" stroke="#000" stroke-width="0.9"/>
<line x1="59.6" y1="174.87" x2="61.9" y2="174.87" stroke="#000" stroke-width="0.9"/>
<line x1="59.6" y1="172.11" x2="61.9" y2="172.11" stroke="#000" stroke-width="0.9"/>
<line x1="59.6" y1="169.65" x2="63.2" y2="169.65" stroke="#000" stroke-width="1.0"/>
<line x1="59.6" y1="153.44" x2="61.9" y2="153.44" stroke="#000" stroke-width="0.9"/>
<line x1="59.6" y1="143.96" x2="61.9" y2="143.96" stroke="#000" stroke-width="0.9"/>
<line x1="59.6" y1="137.23" x2="61.9" y2="137.23" stroke="#000" stroke-width="0.9"/>
<line x1="59.6" y1="132.01" x2="61.9" y2="132.01" stroke="#000" stroke-width="0.9"/>
<line x1="59.6" y1="127.75" x2="61.9" y2="127.75" stroke="#000" stroke-width="0.9"/>
<line x1="59.6" y1="124.14" x2="61.9" y2="124.14" stroke="#000" stroke-width="0.9"/>
<line x1="59.6" y1="121.02" x2="61.9" y2="121.02" stroke="#000" stroke-width="0.9"/>
<line x1="59.6" y1="118.26" x2="61.9" y2="118.26" stroke="#000" stroke-width="0.9"/>
<line x1="59.6" y1="115.80" x2="63.2" y2="115.80" stroke="#000" stroke-width="1.0"/>
<line x1="59.6" y1="99.59" x2="61.9" y2="99.59" stroke="#000" stroke-width="0.9"/>
<line x1="59.6" y1="90.11" x2="61.9" y2="90.11" stroke="#000" stroke-width="0.9"/>
<line x1="59.6" y1="83.38" x2="61.9" y2="83.38" stroke="#000" stroke-width="0.9"/>
<line x1="59.6" y1="78.16" x2="61.9" y2="78.16" stroke="#000" stroke-width="0.9"/>
<line x1="59.6" y1="73.90" x2="61.9" y2="73.90" stroke="#000" stroke-width="0.9"/>
<line x1="59.6" y1="70.29" x2="61.9" y2="70.29" stroke="#000" stroke-width="0.9"/>
<line x1="59.6" y1="67.17" x2="61.9" y2="67.17" stroke="#000" stroke-width="0.9"/>
<line x1="59.6" y1="64.41" x2="61.9" y2="64.41" stroke="#000" stroke-width="0.9"/>
<line x1="59.6" y1="61.95" x2="63.2" y2="61.95" stroke="#000" stroke-width="1.0"/>
<line x1="59.6" y1="45.74" x2="61.9" y2="45.74" stroke="#000" stroke-width="0.9"/>
<line x1="59.6" y1="36.26" x2="61.9" y2="36.26" stroke="#000" stroke-width="0.9"/>
<line x1="59.6" y1="29.53" x2="61.9" y2="29.53" stroke="#000" stroke-width="0.9"/>
<line x1="59.6" y1="24.31" x2="61.9" y2="24.31" stroke="#000" stroke-width="0.9"/>
<line x1="59.6" y1="20.05" x2="61.9" y2="20.05" stroke="#000" stroke-width="0.9"/>
<line x1="59.6" y1="16.44" x2="61.9" y2="16.44" stroke="#000" stroke-width="0.9"/>
<line x1="59.6" y1="13.32" x2="61.9" y2="13.32" stroke="#000" stroke-width="0.9"/>
<line x1="59.60" y1="261.0" x2="59.60" y2="257.4" stroke="#000" stroke-width="1.0"/>
<line x1="77.00" y1="261.0" x2="77.00" y2="258.7" stroke="#000" stroke-width="0.9"/>
<line x1="87.18" y1="261.0" x2="87.18" y2="258.7" stroke="#000" stroke-width="0.9"/>
<line x1="94.40" y1="261.0" x2="94.40" y2="258.7" stroke="#000" stroke-width="0.9"/>
<line x1="100.00" y1="261.0" x2="100.00" y2="258.7" stroke="#000" stroke-width="0.9"/>
<line x1="104.58" y1="261.0" x2="104.58" y2="258.7" stroke="#000" stroke-width="0.9"/>
<line x1="108.45" y1="261.0" x2="108.45" y2="258.7" stroke="#000" stroke-width="0.9"/>
<line x1="111.80" y1="261.0" x2="111.80" y2="258.7" stroke="#000" stroke-width="0.9"/>
<line x1="114.76" y1="261.0" x2="114.76" y2="258.7" stroke="#000" stroke-width="0.9"/>
<line x1="117.40" y1="261.0" x2="117.40" y2="257.4" stroke="#000" stroke-width="1.0"/>
<line x1="134.80" y1="261.0" x2="134.80" y2="258.7" stroke="#000" stroke-width="0.9"/>
<line x1="144.98" y1="261.0" x2="144.98" y2="258.7" stroke="#000" stroke-width="0.9"/>
<line x1="152.20" y1="261.0" x2="152.20" y2="258.7" stroke="#000" stroke-width="0.9"/>
<line x1="157.80" y1="261.0" x2="157.80" y2="258.7" stroke="#000" stroke-width="0.9"/>
<line x1="162.38" y1="261.0" x2="162.38" y2="258.7" stroke="#000" stroke-width="0.9"/>
<line x1="166.25" y1="261.0" x2="166.25" y2="258.7" stroke="#000" stroke-width="0.9"/>
<line x1="169.60" y1="261.0" x2="169.60" y2="258.7" stroke="#000" stroke-width="0.9"/>
<line x1="172.56" y1="261.0" x2="172.56" y2="258.7" stroke="#000" stroke-width="0.9"/>
<line x1="175.20" y1="261.0" x2="175.20" y2="257.4" stroke="#000" stroke-width="1.0"/>
<line x1="192.60" y1="261.0" x2="192.60" y2="258.7" stroke="#000" stroke-width="0.9"/>
<line x1="202.78" y1="261.0" x2="202.78" y2="258.7" stroke="#000" stroke-width="0.9"/>
<line x1="210.00" y1="261.0" x2="210.00" y2="258.7" stroke="#000" stroke-width="0.9"/>
<line x1="215.60" y1="261.0" x2="215.60" y2="258.7" stroke="#000" stroke-width="0.9"/>
<line x1="220.18" y1="261.0" x2="220.18" y2="258.7" stroke="#000" stroke-width="0.9"/>
<line x1="224.05" y1="261.0" x2="224.05" y2="258.7" stroke="#000" stroke-width="0.9"/>
<line x1="227.40" y1="261.0" x2="227.40" y2="258.7" stroke="#000" stroke-width="0.9"/>
<line x1="230.36" y1="261.0" x2="230.36" y2="258.7" stroke="#000" stroke-width="0.9"/>
<line x1="233.00" y1="261.0" x2="233.00" y2="257.4" stroke="#000" stroke-width="1.0"/>
<line x1="250.40" y1="261.0" x2="250.40" y2="258.7" stroke="#000" stroke-width="0.9"/>
<line x1="260.58" y1="261.0" x2="260.58" y2="258.7" stroke="#000" stroke-width="0.9"/>
<line x1="267.80" y1="261.0" x2="267.80" y2="258.7" stroke="#000" stroke-width="0.9"/>
<line x1="273.40" y1="261.0" x2="273.40" y2="258.7" stroke="#000" stroke-width="0.9"/>
<line x1="277.98" y1="261.0" x2="277.98" y2="258.7" stroke="#000" stroke-width="0.9"/>
<line x1="281.85" y1="261.0" x2="281.85" y2="258.7" stroke="#000" stroke-width="0.9"/>
<line x1="285.20" y1="261.0" x2="285.20" y2="258.7" stroke="#000" stroke-width="0.9"/>
<line x1="288.16" y1="261.0" x2="288.16" y2="258.7" stroke="#000" stroke-width="0.9"/>
<line x1="290.80" y1="261.0" x2="290.80" y2="257.4" stroke="#000" stroke-width="1.0"/>
<line x1="308.20" y1="261.0" x2="308.20" y2="258.7" stroke="#000" stroke-width="0.9"/>
<line x1="318.38" y1="261.0" x2="318.38" y2="258.7" stroke="#000" stroke-width="0.9"/>
<line x1="325.60" y1="261.0" x2="325.60" y2="258.7" stroke="#000" stroke-width="0.9"/>
<line x1="331.20" y1="261.0" x2="331.20" y2="258.7" stroke="#000" stroke-width="0.9"/>
<line x1="335.78" y1="261.0" x2="335.78" y2="258.7" stroke="#000" stroke-width="0.9"/>
<line x1="339.65" y1="261.0" x2="339.65" y2="258.7" stroke="#000" stroke-width="0.9"/>
<line x1="343.00" y1="261.0" x2="343.00" y2="258.7" stroke="#000" stroke-width="0.9"/>
<line x1="345.96" y1="261.0" x2="345.96" y2="258.7" stroke="#000" stroke-width="0.9"/>
<line x1="348.60" y1="261.0" x2="348.60" y2="257.4" stroke="#000" stroke-width="1.0"/>
<line x1="366.00" y1="261.0" x2="366.00" y2="258.7" stroke="#000" stroke-width="0.9"/>
<line x1="376.18" y1="261.0" x2="376.18" y2="258.7" stroke="#000" stroke-width="0.9"/>
<line x1="383.40" y1="261.0" x2="383.40" y2="258.7" stroke="#000" stroke-width="0.9"/>
<line x1="389.00" y1="261.0" x2="389.00" y2="258.7" stroke="#000" stroke-width="0.9"/>
<line x1="393.58" y1="261.0" x2="393.58" y2="258.7" stroke="#000" stroke-width="0.9"/>
<line x1="397.45" y1="261.0" x2="397.45" y2="258.7" stroke="#000" stroke-width="0.9"/>
<line x1="400.80" y1="261.0" x2="400.80" y2="258.7" stroke="#000" stroke-width="0.9"/>
<line x1="403.76" y1="261.0" x2="403.76" y2="258.7" stroke="#000" stroke-width="0.9"/>
<line x1="406.40" y1="261.0" x2="406.40" y2="257.4" stroke="#000" stroke-width="1.0"/>
<rect x="59.6" y="13.3" width="346.80" height="247.70" fill="none" stroke="#1c1c1c" stroke-width="1.1"/>
<text x="27.80" y="228.50" font-size="14" textLength="14.7" lengthAdjust="spacingAndGlyphs" font-family="Liberation Serif, serif" fill="#000" fill-opacity="0.8">10</text>
<text x="42.70" y="223.30" font-size="10.0" textLength="12.7" lengthAdjust="spacingAndGlyphs" font-family="Liberation Serif, serif" fill="#000" fill-opacity="0.8">−1</text>
<text x="35.50" y="174.65" font-size="14" textLength="14.7" lengthAdjust="spacingAndGlyphs" font-family="Liberation Serif, serif" fill="#000" fill-opacity="0.8">10</text>
<text x="50.40" y="169.45" font-size="10.0" textLength="5.0" lengthAdjust="spacingAndGlyphs" font-family="Liberation Serif, serif" fill="#000" fill-opacity="0.8">0</text>
<text x="35.50" y="120.80" font-size="14" textLength="14.7" lengthAdjust="spacingAndGlyphs" font-family="Liberation Serif, serif" fill="#000" fill-opacity="0.8">10</text>
<text x="50.40" y="115.60" font-size="10.0" textLength="5.0" lengthAdjust="spacingAndGlyphs" font-family="Liberation Serif, serif" fill="#000" fill-opacity="0.8">1</text>
<text x="35.50" y="66.95" font-size="14" textLength="14.7" lengthAdjust="spacingAndGlyphs" font-family="Liberation Serif, serif" fill="#000" fill-opacity="0.8">10</text>
<text x="50.40" y="61.75" font-size="10.0" textLength="5.0" lengthAdjust="spacingAndGlyphs" font-family="Liberation Serif, serif" fill="#000" fill-opacity="0.8">2</text>
<text x="46.00" y="275.80" font-size="14" textLength="14.7" lengthAdjust="spacingAndGlyphs" font-family="Liberation Serif, serif" fill="#000" fill-opacity="0.8">10</text>
<text x="60.90" y="270.60" font-size="10.0" textLength="12.7" lengthAdjust="spacingAndGlyphs" font-family="Liberation Serif, serif" fill="#000" fill-opacity="0.8">−3</text>
<text x="103.80" y="275.80" font-size="14" textLength="14.7" lengthAdjust="spacingAndGlyphs" font-family="Liberation Serif, serif" fill="#000" fill-opacity="0.8">10</text>
<text x="118.70" y="270.60" font-size="10.0" textLength="12.7" lengthAdjust="spacingAndGlyphs" font-family="Liberation Serif, serif" fill="#000" fill-opacity="0.8">−2</text>
<text x="161.60" y="275.80" font-size="14" textLength="14.7" lengthAdjust="spacingAndGlyphs" font-family="Liberation Serif, serif" fill="#000" fill-opacity="0.8">10</text>
<text x="176.50" y="270.60" font-size="10.0" textLength="12.7" lengthAdjust="spacingAndGlyphs" font-family="Liberation Serif, serif" fill="#000" fill-opacity="0.8">−1</text>
<text x="223.25" y="275.80" font-size="14" textLength="14.7" lengthAdjust="spacingAndGlyphs" font-family="Liberation Serif, serif" fill="#000" fill-opacity="0.8">10</text>
<text x="238.15" y="270.60" font-size="10.0" textLength="5.0" lengthAdjust="spacingAndGlyphs" font-family="Liberation Serif, serif" fill="#000" fill-opacity="0.8">0</text>
<text x="281.05" y="275.80" font-size="14" textLength="14.7" lengthAdjust="spacingAndGlyphs" font-family="Liberation Serif, serif" fill="#000" fill-opacity="0.8">10</text>
<text x="295.95" y="270.60" font-size="10.0" textLength="5.0" lengthAdjust="spacingAndGlyphs" font-family="Liberation Serif, serif" fill="#000" fill-opacity="0.8">1</text>
<text x="338.85" y="275.80" font-size="14" textLength="14.7" lengthAdjust="spacingAndGlyphs" font-family="Liberation Serif, serif" fill="#000" fill-opacity="0.8">10</text>
<text x="353.75" y="270.60" font-size="10.0" textLength="5.0" lengthAdjust="spacingAndGlyphs" font-family="Liberation Serif, serif" fill="#000" fill-opacity="0.8">2</text>
<text x="396.65" y="275.80" font-size="14" textLength="14.7" lengthAdjust="spacingAndGlyphs" font-family="Liberation Serif, serif" fill="#000" fill-opacity="0.8">10</text>
<text x="411.55" y="270.60" font-size="10.0" textLength="5.0" lengthAdjust="spacingAndGlyphs" font-family="Liberation Serif, serif" fill="#000" fill-opacity="0.8">3</text>
<text x="233.4" y="292.6" font-size="14" font-style="italic" text-anchor="middle" font-family="Liberation Serif, serif" fill="#000" fill-opacity="0.8">z</text>
<text transform="translate(19.3,165) rotate(-90)" font-size="15" textLength="57" lengthAdjust="spacingAndGlyphs" font-family="Liberation Serif, serif" fill="#000" fill-opacity="0.8">|Δ<tspan font-style="italic">η</tspan>| [sec]</text>
<text x="77.5" y="247" font-size="14" textLength="64.5" lengthAdjust="spacingAndGlyphs" font-family="Liberation Serif, serif" fill="#000" fill-opacity="0.8">Coherence</text>
<rect x="65.7" y="19.6" width="170.4" height="75.5" rx="2.2" fill="#fff" fill-opacity="0.5" stroke="#ccc" stroke-opacity="0.6" stroke-width="1"/>
<text x="113.2" y="33.5" font-size="13" textLength="75" lengthAdjust="spacingAndGlyphs" font-family="Liberation Serif, serif" fill="#000" fill-opacity="0.8">Chiral mixing</text>
<line x1="70" y1="46.5" x2="96.8" y2="46.5" stroke="#1f77b4" stroke-width="1.9"/>
<line x1="70" y1="65.2" x2="96.8" y2="65.2" stroke="#ff7f0e" stroke-width="1.9"/>
<line x1="70" y1="83.9" x2="96.8" y2="83.9" stroke="#d62728" stroke-width="1.9"/>
<text x="106.5" y="51" font-size="13" textLength="59.8" lengthAdjust="spacingAndGlyphs" font-family="Liberation Serif, serif" fill="#000" fill-opacity="0.8">Time delay</text>
<text x="106.6" y="68.3" font-size="13" textLength="48.3" lengthAdjust="spacingAndGlyphs" font-family="Liberation Serif, serif" fill="#000" fill-opacity="0.8">Duration</text>
<text x="159.2" y="68.3" font-size="13" font-style="italic" textLength="6.8" lengthAdjust="spacingAndGlyphs" font-family="Liberation Serif, serif" fill="#000" fill-opacity="0.8">h</text>
<text x="166.5" y="70.6" font-size="9.8" textLength="10.8" lengthAdjust="spacingAndGlyphs" font-family="Liberation Serif, serif" fill="#000" fill-opacity="0.8">1<tspan font-style="italic">L</tspan></text>
<text x="183.6" y="68.3" font-size="13" textLength="43.4" lengthAdjust="spacingAndGlyphs" font-family="Liberation Serif, serif" fill="#000" fill-opacity="0.8">(fastest)</text>
<text x="106.6" y="85.8" font-size="13" textLength="48.3" lengthAdjust="spacingAndGlyphs" font-family="Liberation Serif, serif" fill="#000" fill-opacity="0.8">Duration</text>
<text x="159.2" y="85.8" font-size="13" font-style="italic" textLength="6.8" lengthAdjust="spacingAndGlyphs" font-family="Liberation Serif, serif" fill="#000" fill-opacity="0.8">h</text>
<text x="166.5" y="88.1" font-size="9.8" textLength="10.8" lengthAdjust="spacingAndGlyphs" font-family="Liberation Serif, serif" fill="#000" fill-opacity="0.8">2<tspan font-style="italic">L</tspan></text>
<text x="183.6" y="85.8" font-size="13" textLength="46.6" lengthAdjust="spacingAndGlyphs" font-family="Liberation Serif, serif" fill="#000" fill-opacity="0.8">(slowest)</text>
<line x1="562.30" y1="13.3" x2="562.30" y2="261.0" stroke="#b0b0b0" stroke-opacity="0.38" stroke-width="1"/>
<line x1="649.00" y1="13.3" x2="649.00" y2="261.0" stroke="#b0b0b0" stroke-opacity="0.38" stroke-width="1"/>
<line x1="735.70" y1="13.3" x2="735.70" y2="261.0" stroke="#b0b0b0" stroke-opacity="0.38" stroke-width="1"/>
<line x1="475.6" y1="242.89" x2="822.4" y2="242.89" stroke="#b0b0b0" stroke-opacity="0.38" stroke-width="1"/>
<line x1="475.6" y1="210.12" x2="822.4" y2="210.12" stroke="#b0b0b0" stroke-opacity="0.38" stroke-width="1"/>
<line x1="475.6" y1="177.35" x2="822.4" y2="177.35" stroke="#b0b0b0" stroke-opacity="0.38" stroke-width="1"/>
<line x1="475.6" y1="144.58" x2="822.4" y2="144.58" stroke="#b0b0b0" stroke-opacity="0.38" stroke-width="1"/>
<line x1="475.6" y1="111.81" x2="822.4" y2="111.81" stroke="#b0b0b0" stroke-opacity="0.38" stroke-width="1"/>
<line x1="475.6" y1="79.04" x2="822.4" y2="79.04" stroke="#b0b0b0" stroke-opacity="0.38" stroke-width="1"/>
<line x1="475.6" y1="46.27" x2="822.4" y2="46.27" stroke="#b0b0b0" stroke-opacity="0.38" stroke-width="1"/>
<g clip-path="url(#cr)" fill="none" stroke-linejoin="round">
<path d="M470.00,196.90 L471.65,197.20 L473.29,197.50 L474.94,197.81 L476.59,198.11 L478.23,198.41 L479.88,198.71 L481.53,199.01 L483.17,199.31 L484.82,199.61 L486.47,199.91 L488.11,200.21 L489.76,200.51 L491.41,200.81 L493.05,201.11 L494.70,201.40 L496.35,201.70 L497.99,202.00 L499.64,202.30 L501.29,202.60 L502.93,202.90 L504.58,203.19 L506.23,203.49 L507.87,203.79 L509.52,204.09 L511.17,204.39 L512.82,204.69 L514.46,204.98 L516.11,205.28 L517.76,205.58 L519.40,205.88 L521.05,206.18 L522.70,206.47 L524.34,206.77 L525.99,207.07 L527.64,207.37 L529.28,207.67 L530.93,207.97 L532.58,208.27 L534.22,208.57 L535.87,208.87 L537.52,209.17 L539.16,209.47 L540.81,209.77 L542.46,210.07 L544.10,210.37 L545.75,210.67 L547.40,210.97 L549.04,211.27 L550.69,211.57 L552.34,211.88 L553.98,212.18 L555.63,212.48 L557.28,212.78 L558.92,213.09 L560.57,213.39 L562.22,213.70 L563.86,214.00 L565.51,214.31 L567.16,214.61 L568.80,214.92 L570.45,215.23 L572.10,215.53 L573.74,215.84 L575.39,216.15 L577.04,216.45 L578.68,216.76 L580.33,217.07 L581.98,217.38 L583.62,217.68 L585.27,217.99 L586.92,218.30 L588.56,218.61 L590.21,218.92 L591.86,219.23 L593.51,219.54 L595.15,219.85 L596.80,220.16 L598.45,220.47 L600.09,220.78 L601.74,221.09 L603.39,221.40 L605.03,221.71 L606.68,222.02 L608.33,222.33 L609.97,222.64 L611.62,222.96 L613.27,223.27 L614.91,223.58 L616.56,223.89 L618.21,224.20 L619.85,224.51 L621.50,224.83 L623.15,225.14 L624.79,225.45 L626.44,225.76 L628.09,226.08 L629.73,226.39 L631.38,226.70 L633.03,227.01 L634.67,227.33 L636.32,227.64 L637.97,227.95 L639.61,228.26 L641.26,228.58 L642.91,228.89 L644.55,229.20 L646.20,229.52 L647.85,229.83 L649.49,230.14 L651.14,230.45 L652.79,230.77 L654.43,231.08 L656.08,231.39 L657.73,231.70 L659.37,232.01 L661.02,232.32 L662.67,232.63 L664.31,232.95 L665.96,233.26 L667.61,233.57 L669.25,233.88 L670.90,234.19 L672.55,234.50 L674.19,234.81 L675.84,235.12 L677.49,235.43 L679.14,235.74 L680.78,236.05 L682.43,236.36 L684.08,236.67 L685.72,236.98 L687.37,237.29 L689.02,237.60 L690.66,237.91 L692.31,238.22 L693.96,238.53 L695.60,238.84 L697.25,239.16 L698.90,239.47 L700.54,239.78 L702.19,240.09 L703.84,240.40 L705.48,240.72 L707.13,241.03 L708.78,241.35 L710.42,241.66 L712.07,241.97 L713.72,242.29 L715.36,242.61 L717.01,242.92 L718.66,243.24 L720.30,243.56 L721.95,243.87 L723.60,244.19 L725.24,244.51 L726.89,244.83 L728.54,245.15 L730.18,245.47 L731.83,245.79 L733.48,246.12 L735.12,246.44 L736.77,246.76 L738.42,247.09 L740.06,247.41 L741.71,247.74 L743.36,248.07 L745.00,248.39 L746.65,248.72 L748.30,249.05 L749.94,249.38 L751.59,249.72 L753.24,250.05 L754.88,250.38 L756.53,250.72 L758.18,251.06 L759.83,251.40 L761.47,251.74 L763.12,252.08 L764.77,252.43 L766.41,252.77 L768.06,253.12 L769.71,253.47 L771.35,253.82 L773.00,254.17 L774.65,254.52 L776.29,254.87 L777.94,255.22 L779.59,255.57 L781.23,255.92 L782.88,256.27 L784.53,256.62 L786.17,256.97 L787.82,257.32 L789.47,257.67 L791.11,258.02 L792.76,258.37 L794.41,258.72 L796.05,259.07 L797.70,259.42" stroke="#1f77b4" stroke-width="1.9" stroke-dasharray="10.84 2.72 1.71 2.72" stroke-dashoffset="10.9"/>
<path d="M560.00,1.07 L560.89,1.72 L561.78,2.36 L562.67,3.01 L563.56,3.65 L564.45,4.29 L565.34,4.93 L566.23,5.58 L567.12,6.22 L568.01,6.86 L568.90,7.50 L569.79,8.14 L570.68,8.78 L571.57,9.42 L572.45,10.06 L573.34,10.70 L574.23,11.34 L575.12,11.98 L576.01,12.61 L576.90,13.25 L577.79,13.89 L578.68,14.52 L579.57,15.16 L580.46,15.79 L581.35,16.42 L582.24,17.06 L583.13,17.69 L584.02,18.32 L584.91,18.95 L585.80,19.58 L586.69,20.21 L587.58,20.83 L588.47,21.46 L589.36,22.09 L590.25,22.71 L591.14,23.34 L592.03,23.96 L592.92,24.58 L593.81,25.20 L594.70,25.82 L595.59,26.44 L596.47,27.06 L597.36,27.67 L598.25,28.29 L599.14,28.90 L600.03,29.51 L600.92,30.12 L601.81,30.73 L602.70,31.34 L603.59,31.94 L604.48,32.54 L605.37,33.15 L606.26,33.75 L607.15,34.35 L608.04,34.94 L608.93,35.54 L609.82,36.13 L610.71,36.72 L611.60,37.31 L612.49,37.90 L613.38,38.48 L614.27,39.07 L615.16,39.65 L616.05,40.22 L616.94,40.80 L617.83,41.37 L618.72,41.95 L619.61,42.51 L620.49,43.08 L621.38,43.64 L622.27,44.20 L623.16,44.76 L624.05,45.32 L624.94,45.87 L625.83,46.42 L626.72,46.97 L627.61,47.51 L628.50,48.05 L629.39,48.59 L630.28,49.13 L631.17,49.66 L632.06,50.19 L632.95,50.72 L633.84,51.24 L634.73,51.76 L635.62,52.28 L636.51,52.79 L637.40,53.30 L638.29,53.81 L639.18,54.32 L640.07,54.82 L640.96,55.31 L641.85,55.81 L642.74,56.30 L643.63,56.79 L644.52,57.27 L645.40,57.76 L646.29,58.23 L647.18,58.71 L648.07,59.18 L648.96,59.65 L649.85,60.12 L650.74,60.58 L651.63,61.04 L652.52,61.49 L653.41,61.95 L654.30,62.40 L655.19,62.84 L656.08,63.29 L656.97,63.73 L657.86,64.17 L658.75,64.60 L659.64,65.04 L660.53,65.47 L661.42,65.89 L662.31,66.32 L663.20,66.74 L664.09,67.16 L664.98,67.57 L665.87,67.99 L666.76,68.40 L667.65,68.81 L668.54,69.22 L669.42,69.62 L670.31,70.02 L671.20,70.42 L672.09,70.82 L672.98,71.22 L673.87,71.61 L674.76,72.00 L675.65,72.39 L676.54,72.78 L677.43,73.16 L678.32,73.55 L679.21,73.93 L680.10,74.31 L680.99,74.69 L681.88,75.07 L682.77,75.44 L683.66,75.81 L684.55,76.19 L685.44,76.56 L686.33,76.93 L687.22,77.30 L688.11,77.66 L689.00,78.03 L689.89,78.39 L690.78,78.76 L691.67,79.12 L692.56,79.48 L693.44,79.84 L694.33,80.20 L695.22,80.55 L696.11,80.91 L697.00,81.27 L697.89,81.62 L698.78,81.97 L699.67,82.33 L700.56,82.68 L701.45,83.03 L702.34,83.38 L703.23,83.73 L704.12,84.08 L705.01,84.43 L705.90,84.78 L706.79,85.12 L707.68,85.47 L708.57,85.81 L709.46,86.16 L710.35,86.50 L711.24,86.85 L712.13,87.19 L713.02,87.53 L713.91,87.88 L714.80,88.22 L715.69,88.56 L716.58,88.90 L717.46,89.24 L718.35,89.58 L719.24,89.92 L720.13,90.26 L721.02,90.60 L721.91,90.94 L722.80,91.28 L723.69,91.62 L724.58,91.95 L725.47,92.29 L726.36,92.63 L727.25,92.97 L728.14,93.30 L729.03,93.64 L729.92,93.98 L730.81,94.31 L731.70,94.65 L732.59,94.98 L733.48,95.32 L734.37,95.65 L735.26,95.99 L736.15,96.32 L737.04,96.66 L737.93,96.99 L738.82,97.33 L739.71,97.66 L740.60,97.99 L741.48,98.33 L742.37,98.66 L743.26,98.99 L744.15,99.33 L745.04,99.66 L745.93,99.99 L746.82,100.33 L747.71,100.66 L748.60,100.99 L749.49,101.33 L750.38,101.66 L751.27,101.99 L752.16,102.32 L753.05,102.65 L753.94,102.99 L754.83,103.32 L755.72,103.65 L756.61,103.98 L757.50,104.31 L758.39,104.65 L759.28,104.98 L760.17,105.31 L761.06,105.64 L761.95,105.97 L762.84,106.30 L763.73,106.64 L764.62,106.97 L765.51,107.30 L766.39,107.63 L767.28,107.96 L768.17,108.29 L769.06,108.62 L769.95,108.95 L770.84,109.29 L771.73,109.62 L772.62,109.95 L773.51,110.28 L774.40,110.61 L775.29,110.94 L776.18,111.27 L777.07,111.60 L777.96,111.93 L778.85,112.26 L779.74,112.59 L780.63,112.92 L781.52,113.25 L782.41,113.59 L783.30,113.92 L784.19,114.25 L785.08,114.58 L785.97,114.91 L786.86,115.24 L787.75,115.57 L788.64,115.90 L789.53,116.23 L790.41,116.56 L791.30,116.89 L792.19,117.22 L793.08,117.55 L793.97,117.88 L794.86,118.21 L795.75,118.54 L796.64,118.87 L797.53,119.20 L798.42,119.53 L799.31,119.86 L800.20,120.19 L801.09,120.52 L801.98,120.85 L802.87,121.19 L803.76,121.52 L804.65,121.85 L805.54,122.18 L806.43,122.51 L807.32,122.84 L808.21,123.17 L809.10,123.50 L809.99,123.83 L810.88,124.16 L811.77,124.49 L812.66,124.82 L813.55,125.15 L814.43,125.48 L815.32,125.81 L816.21,126.14 L817.10,126.47 L817.99,126.80 L818.88,127.13 L819.77,127.46 L820.66,127.79 L821.55,128.12 L822.44,128.45 L823.33,128.78 L824.22,129.11 L825.11,129.44 L826.00,129.77" stroke="#ff7f0e" stroke-width="1.9"/>
<path d="M670.00,1.52 L670.52,1.89 L671.04,2.26 L671.57,2.63 L672.09,3.00 L672.61,3.37 L673.13,3.75 L673.65,4.12 L674.17,4.49 L674.70,4.86 L675.22,5.23 L675.74,5.60 L676.26,5.97 L676.78,6.34 L677.30,6.71 L677.83,7.08 L678.35,7.45 L678.87,7.82 L679.39,8.19 L679.91,8.57 L680.43,8.94 L680.96,9.31 L681.48,9.68 L682.00,10.05 L682.52,10.42 L683.04,10.79 L683.57,11.16 L684.09,11.53 L684.61,11.90 L685.13,12.27 L685.65,12.64 L686.17,13.01 L686.70,13.38 L687.22,13.75 L687.74,14.12 L688.26,14.49 L688.78,14.86 L689.30,15.23 L689.83,15.60 L690.35,15.98 L690.87,16.35 L691.39,16.72 L691.91,17.09 L692.43,17.46 L692.96,17.83 L693.48,18.20 L694.00,18.57 L694.52,18.94 L695.04,19.31 L695.57,19.68 L696.09,20.05 L696.61,20.42 L697.13,20.79 L697.65,21.15 L698.17,21.52 L698.70,21.89 L699.22,22.26 L699.74,22.63 L700.26,23.00 L700.78,23.37 L701.30,23.74 L701.83,24.11 L702.35,24.48 L702.87,24.85 L703.39,25.22 L703.91,25.59 L704.43,25.95 L704.96,26.32 L705.48,26.69 L706.00,27.06 L706.52,27.43 L707.04,27.80 L707.57,28.16 L708.09,28.53 L708.61,28.90 L709.13,29.27 L709.65,29.63 L710.17,30.00 L710.70,30.37 L711.22,30.73 L711.74,31.10 L712.26,31.47 L712.78,31.83 L713.30,32.20 L713.83,32.56 L714.35,32.93 L714.87,33.30 L715.39,33.66 L715.91,34.03 L716.43,34.39 L716.96,34.75 L717.48,35.12 L718.00,35.48 L718.52,35.84 L719.04,36.21 L719.57,36.57 L720.09,36.93 L720.61,37.29 L721.13,37.65 L721.65,38.01 L722.17,38.38 L722.70,38.74 L723.22,39.09 L723.74,39.45 L724.26,39.81 L724.78,40.17 L725.30,40.53 L725.83,40.88 L726.35,41.24 L726.87,41.60 L727.39,41.95 L727.91,42.30 L728.43,42.66 L728.96,43.01 L729.48,43.36 L730.00,43.71 L730.52,44.06 L731.04,44.41 L731.57,44.76 L732.09,45.11 L732.61,45.46 L733.13,45.80 L733.65,46.15 L734.17,46.49 L734.70,46.83 L735.22,47.17 L735.74,47.51 L736.26,47.85 L736.78,48.19 L737.30,48.53 L737.83,48.86 L738.35,49.20 L738.87,49.53 L739.39,49.86 L739.91,50.19 L740.43,50.52 L740.96,50.85 L741.48,51.18 L742.00,51.50 L742.52,51.82 L743.04,52.15 L743.57,52.47 L744.09,52.78 L744.61,53.10 L745.13,53.42 L745.65,53.73 L746.17,54.04 L746.70,54.35 L747.22,54.66 L747.74,54.96 L748.26,55.27 L748.78,55.57 L749.30,55.87 L749.83,56.17 L750.35,56.47 L750.87,56.76 L751.39,57.06 L751.91,57.35 L752.43,57.64 L752.96,57.93 L753.48,58.21 L754.00,58.50 L754.52,58.78 L755.04,59.06 L755.57,59.34 L756.09,59.61 L756.61,59.89 L757.13,60.16 L757.65,60.43 L758.17,60.70 L758.70,60.97 L759.22,61.24 L759.74,61.50 L760.26,61.77 L760.78,62.03 L761.30,62.29 L761.83,62.55 L762.35,62.80 L762.87,63.06 L763.39,63.31 L763.91,63.57 L764.43,63.82 L764.96,64.07 L765.48,64.31 L766.00,64.56 L766.52,64.81 L767.04,65.05 L767.57,65.29 L768.09,65.54 L768.61,65.78 L769.13,66.02 L769.65,66.25 L770.17,66.49 L770.70,66.73 L771.22,66.96 L771.74,67.20 L772.26,67.43 L772.78,67.67 L773.30,67.90 L773.83,68.13 L774.35,68.36 L774.87,68.59 L775.39,68.82 L775.91,69.04 L776.43,69.27 L776.96,69.50 L777.48,69.72 L778.00,69.95 L778.52,70.17 L779.04,70.40 L779.57,70.62 L780.09,70.84 L780.61,71.07 L781.13,71.29 L781.65,71.51 L782.17,71.73 L782.70,71.95 L783.22,72.17 L783.74,72.39 L784.26,72.61 L784.78,72.83 L785.30,73.05 L785.83,73.26 L786.35,73.48 L786.87,73.70 L787.39,73.92 L787.91,74.13 L788.43,74.35 L788.96,74.57 L789.48,74.78 L790.00,75.00 L790.52,75.21 L791.04,75.43 L791.57,75.64 L792.09,75.86 L792.61,76.07 L793.13,76.29 L793.65,76.50 L794.17,76.72 L794.70,76.93 L795.22,77.14 L795.74,77.36 L796.26,77.57 L796.78,77.79 L797.30,78.00 L797.83,78.21 L798.35,78.42 L798.87,78.64 L799.39,78.85 L799.91,79.06 L800.43,79.28 L800.96,79.49 L801.48,79.70 L802.00,79.91 L802.52,80.12 L803.04,80.34 L803.57,80.55 L804.09,80.76 L804.61,80.97 L805.13,81.18 L805.65,81.40 L806.17,81.61 L806.70,81.82 L807.22,82.03 L807.74,82.24 L808.26,82.45 L808.78,82.66 L809.30,82.88 L809.83,83.09 L810.35,83.30 L810.87,83.51 L811.39,83.72 L811.91,83.93 L812.43,84.14 L812.96,84.35 L813.48,84.56 L814.00,84.78 L814.52,84.99 L815.04,85.20 L815.57,85.41 L816.09,85.62 L816.61,85.83 L817.13,86.04 L817.65,86.25 L818.17,86.46 L818.70,86.67 L819.22,86.88 L819.74,87.09 L820.26,87.30 L820.78,87.52 L821.30,87.73 L821.83,87.94 L822.35,88.15 L822.87,88.36 L823.39,88.57 L823.91,88.78 L824.43,88.99 L824.96,89.20 L825.48,89.41 L826.00,89.62" stroke="#d62728" stroke-width="1.9"/>
<path d="M680.00,1.48 L680.49,1.81 L680.98,2.14 L681.46,2.47 L681.95,2.80 L682.44,3.13 L682.93,3.46 L683.42,3.79 L683.91,4.12 L684.39,4.45 L684.88,4.78 L685.37,5.11 L685.86,5.44 L686.35,5.77 L686.84,6.10 L687.32,6.43 L687.81,6.76 L688.30,7.09 L688.79,7.42 L689.28,7.75 L689.77,8.08 L690.25,8.41 L690.74,8.74 L691.23,9.07 L691.72,9.40 L692.21,9.73 L692.70,10.06 L693.18,10.39 L693.67,10.72 L694.16,11.05 L694.65,11.38 L695.14,11.71 L695.63,12.04 L696.11,12.37 L696.60,12.70 L697.09,13.03 L697.58,13.36 L698.07,13.69 L698.56,14.02 L699.04,14.35 L699.53,14.68 L700.02,15.01 L700.51,15.34 L701.00,15.67 L701.48,16.00 L701.97,16.32 L702.46,16.65 L702.95,16.98 L703.44,17.31 L703.93,17.64 L704.41,17.97 L704.90,18.30 L705.39,18.63 L705.88,18.96 L706.37,19.29 L706.86,19.62 L707.34,19.95 L707.83,20.28 L708.32,20.61 L708.81,20.94 L709.30,21.27 L709.79,21.60 L710.27,21.93 L710.76,22.26 L711.25,22.59 L711.74,22.92 L712.23,23.25 L712.72,23.57 L713.20,23.90 L713.69,24.23 L714.18,24.56 L714.67,24.89 L715.16,25.22 L715.65,25.55 L716.13,25.88 L716.62,26.21 L717.11,26.54 L717.60,26.87 L718.09,27.19 L718.58,27.52 L719.06,27.85 L719.55,28.18 L720.04,28.51 L720.53,28.84 L721.02,29.17 L721.51,29.49 L721.99,29.82 L722.48,30.15 L722.97,30.48 L723.46,30.81 L723.95,31.13 L724.43,31.46 L724.92,31.79 L725.41,32.12 L725.90,32.45 L726.39,32.77 L726.88,33.10 L727.36,33.43 L727.85,33.76 L728.34,34.08 L728.83,34.41 L729.32,34.74 L729.81,35.06 L730.29,35.39 L730.78,35.72 L731.27,36.04 L731.76,36.37 L732.25,36.69 L732.74,37.02 L733.22,37.35 L733.71,37.67 L734.20,38.00 L734.69,38.32 L735.18,38.65 L735.67,38.97 L736.15,39.30 L736.64,39.62 L737.13,39.94 L737.62,40.27 L738.11,40.59 L738.60,40.91 L739.08,41.24 L739.57,41.56 L740.06,41.88 L740.55,42.21 L741.04,42.53 L741.53,42.85 L742.01,43.17 L742.50,43.49 L742.99,43.81 L743.48,44.13 L743.97,44.45 L744.45,44.77 L744.94,45.09 L745.43,45.41 L745.92,45.73 L746.41,46.04 L746.90,46.36 L747.38,46.68 L747.87,46.99 L748.36,47.31 L748.85,47.62 L749.34,47.94 L749.83,48.25 L750.31,48.56 L750.80,48.88 L751.29,49.19 L751.78,49.50 L752.27,49.81 L752.76,50.12 L753.24,50.43 L753.73,50.74 L754.22,51.05 L754.71,51.35 L755.20,51.66 L755.69,51.97 L756.17,52.27 L756.66,52.57 L757.15,52.88 L757.64,53.18 L758.13,53.48 L758.62,53.78 L759.10,54.08 L759.59,54.38 L760.08,54.67 L760.57,54.97 L761.06,55.27 L761.55,55.56 L762.03,55.85 L762.52,56.14 L763.01,56.43 L763.50,56.72 L763.99,57.01 L764.47,57.30 L764.96,57.58 L765.45,57.87 L765.94,58.15 L766.43,58.43 L766.92,58.71 L767.40,58.99 L767.89,59.27 L768.38,59.55 L768.87,59.82 L769.36,60.10 L769.85,60.37 L770.33,60.64 L770.82,60.91 L771.31,61.18 L771.80,61.44 L772.29,61.71 L772.78,61.97 L773.26,62.23 L773.75,62.49 L774.24,62.75 L774.73,63.01 L775.22,63.27 L775.71,63.52 L776.19,63.77 L776.68,64.03 L777.17,64.28 L777.66,64.53 L778.15,64.77 L778.64,65.02 L779.12,65.26 L779.61,65.51 L780.10,65.75 L780.59,65.99 L781.08,66.23 L781.57,66.47 L782.05,66.70 L782.54,66.94 L783.03,67.17 L783.52,67.41 L784.01,67.64 L784.49,67.87 L784.98,68.10 L785.47,68.32 L785.96,68.55 L786.45,68.77 L786.94,69.00 L787.42,69.22 L787.91,69.44 L788.40,69.66 L788.89,69.88 L789.38,70.10 L789.87,70.32 L790.35,70.54 L790.84,70.75 L791.33,70.97 L791.82,71.18 L792.31,71.39 L792.80,71.61 L793.28,71.82 L793.77,72.03 L794.26,72.24 L794.75,72.45 L795.24,72.65 L795.73,72.86 L796.21,73.07 L796.70,73.27 L797.19,73.48 L797.68,73.68 L798.17,73.89 L798.66,74.09 L799.14,74.29 L799.63,74.49 L800.12,74.70 L800.61,74.90 L801.10,75.10 L801.59,75.30 L802.07,75.50 L802.56,75.69 L803.05,75.89 L803.54,76.09 L804.03,76.29 L804.52,76.48 L805.00,76.68 L805.49,76.88 L805.98,77.07 L806.47,77.27 L806.96,77.46 L807.44,77.66 L807.93,77.85 L808.42,78.05 L808.91,78.24 L809.40,78.44 L809.89,78.63 L810.37,78.82 L810.86,79.01 L811.35,79.21 L811.84,79.40 L812.33,79.59 L812.82,79.78 L813.30,79.97 L813.79,80.17 L814.28,80.36 L814.77,80.55 L815.26,80.74 L815.75,80.93 L816.23,81.12 L816.72,81.31 L817.21,81.50 L817.70,81.69 L818.19,81.88 L818.68,82.07 L819.16,82.26 L819.65,82.45 L820.14,82.64 L820.63,82.83 L821.12,83.02 L821.61,83.20 L822.09,83.39 L822.58,83.58 L823.07,83.77 L823.56,83.96 L824.05,84.15 L824.54,84.34 L825.02,84.52 L825.51,84.71 L826.00,84.90" stroke="#2ca02c" stroke-width="1.9" stroke-dasharray="6.36 2.75" stroke-dashoffset="-0.6"/>
</g>
<line x1="475.6" y1="242.89" x2="479.20000000000005" y2="242.89" stroke="#000" stroke-width="1"/>
<line x1="475.6" y1="210.12" x2="479.20000000000005" y2="210.12" stroke="#000" stroke-width="1"/>
<line x1="475.6" y1="177.35" x2="479.20000000000005" y2="177.35" stroke="#000" stroke-width="1"/>
<line x1="475.6" y1="144.58" x2="479.20000000000005" y2="144.58" stroke="#000" stroke-width="1"/>
<line x1="475.6" y1="111.81" x2="479.20000000000005" y2="111.81" stroke="#000" stroke-width="1"/>
<line x1="475.6" y1="79.04" x2="479.20000000000005" y2="79.04" stroke="#000" stroke-width="1"/>
<line x1="475.6" y1="46.27" x2="479.20000000000005" y2="46.27" stroke="#000" stroke-width="1"/>
<line x1="475.60" y1="261.0" x2="475.60" y2="257.4" stroke="#000" stroke-width="1.0"/>
<line x1="501.70" y1="261.0" x2="501.70" y2="258.7" stroke="#000" stroke-width="0.9"/>
<line x1="516.97" y1="261.0" x2="516.97" y2="258.7" stroke="#000" stroke-width="0.9"/>
<line x1="527.80" y1="261.0" x2="527.80" y2="258.7" stroke="#000" stroke-width="0.9"/>
<line x1="536.20" y1="261.0" x2="536.20" y2="258.7" stroke="#000" stroke-width="0.9"/>
<line x1="543.07" y1="261.0" x2="543.07" y2="258.7" stroke="#000" stroke-width="0.9"/>
<line x1="548.87" y1="261.0" x2="548.87" y2="258.7" stroke="#000" stroke-width="0.9"/>
<line x1="553.90" y1="261.0" x2="553.90" y2="258.7" stroke="#000" stroke-width="0.9"/>
<line x1="558.33" y1="261.0" x2="558.33" y2="258.7" stroke="#000" stroke-width="0.9"/>
<line x1="562.30" y1="261.0" x2="562.30" y2="257.4" stroke="#000" stroke-width="1.0"/>
<line x1="588.40" y1="261.0" x2="588.40" y2="258.7" stroke="#000" stroke-width="0.9"/>
<line x1="603.67" y1="261.0" x2="603.67" y2="258.7" stroke="#000" stroke-width="0.9"/>
<line x1="614.50" y1="261.0" x2="614.50" y2="258.7" stroke="#000" stroke-width="0.9"/>
<line x1="622.90" y1="261.0" x2="622.90" y2="258.7" stroke="#000" stroke-width="0.9"/>
<line x1="629.77" y1="261.0" x2="629.77" y2="258.7" stroke="#000" stroke-width="0.9"/>
<line x1="635.57" y1="261.0" x2="635.57" y2="258.7" stroke="#000" stroke-width="0.9"/>
<line x1="640.60" y1="261.0" x2="640.60" y2="258.7" stroke="#000" stroke-width="0.9"/>
<line x1="645.03" y1="261.0" x2="645.03" y2="258.7" stroke="#000" stroke-width="0.9"/>
<line x1="649.00" y1="261.0" x2="649.00" y2="257.4" stroke="#000" stroke-width="1.0"/>
<line x1="675.10" y1="261.0" x2="675.10" y2="258.7" stroke="#000" stroke-width="0.9"/>
<line x1="690.37" y1="261.0" x2="690.37" y2="258.7" stroke="#000" stroke-width="0.9"/>
<line x1="701.20" y1="261.0" x2="701.20" y2="258.7" stroke="#000" stroke-width="0.9"/>
<line x1="709.60" y1="261.0" x2="709.60" y2="258.7" stroke="#000" stroke-width="0.9"/>
<line x1="716.47" y1="261.0" x2="716.47" y2="258.7" stroke="#000" stroke-width="0.9"/>
<line x1="722.27" y1="261.0" x2="722.27" y2="258.7" stroke="#000" stroke-width="0.9"/>
<line x1="727.30" y1="261.0" x2="727.30" y2="258.7" stroke="#000" stroke-width="0.9"/>
<line x1="731.73" y1="261.0" x2="731.73" y2="258.7" stroke="#000" stroke-width="0.9"/>
<line x1="735.70" y1="261.0" x2="735.70" y2="257.4" stroke="#000" stroke-width="1.0"/>
<line x1="761.80" y1="261.0" x2="761.80" y2="258.7" stroke="#000" stroke-width="0.9"/>
<line x1="777.07" y1="261.0" x2="777.07" y2="258.7" stroke="#000" stroke-width="0.9"/>
<line x1="787.90" y1="261.0" x2="787.90" y2="258.7" stroke="#000" stroke-width="0.9"/>
<line x1="796.30" y1="261.0" x2="796.30" y2="258.7" stroke="#000" stroke-width="0.9"/>
<line x1="803.17" y1="261.0" x2="803.17" y2="258.7" stroke="#000" stroke-width="0.9"/>
<line x1="808.97" y1="261.0" x2="808.97" y2="258.7" stroke="#000" stroke-width="0.9"/>
<line x1="814.00" y1="261.0" x2="814.00" y2="258.7" stroke="#000" stroke-width="0.9"/>
<line x1="818.43" y1="261.0" x2="818.43" y2="258.7" stroke="#000" stroke-width="0.9"/>
<line x1="822.40" y1="261.0" x2="822.40" y2="257.4" stroke="#000" stroke-width="1.0"/>
<rect x="475.6" y="13.3" width="346.80" height="247.70" fill="none" stroke="#1c1c1c" stroke-width="1.1"/>
<text x="438.80" y="248.09" font-size="14" textLength="14.7" lengthAdjust="spacingAndGlyphs" font-family="Liberation Serif, serif" fill="#000" fill-opacity="0.8">10</text>
<text x="453.70" y="242.89" font-size="10.0" textLength="17.7" lengthAdjust="spacingAndGlyphs" font-family="Liberation Serif, serif" fill="#000" fill-opacity="0.8">−11</text>
<text x="443.80" y="215.32" font-size="14" textLength="14.7" lengthAdjust="spacingAndGlyphs" font-family="Liberation Serif, serif" fill="#000" fill-opacity="0.8">10</text>
<text x="458.70" y="210.12" font-size="10.0" textLength="12.7" lengthAdjust="spacingAndGlyphs" font-family="Liberation Serif, serif" fill="#000" fill-opacity="0.8">−9</text>
<text x="443.80" y="182.55" font-size="14" textLength="14.7" lengthAdjust="spacingAndGlyphs" font-family="Liberation Serif, serif" fill="#000" fill-opacity="0.8">10</text>
<text x="458.70" y="177.35" font-size="10.0" textLength="12.7" lengthAdjust="spacingAndGlyphs" font-family="Liberation Serif, serif" fill="#000" fill-opacity="0.8">−7</text>
<text x="443.80" y="149.78" font-size="14" textLength="14.7" lengthAdjust="spacingAndGlyphs" font-family="Liberation Serif, serif" fill="#000" fill-opacity="0.8">10</text>
<text x="458.70" y="144.58" font-size="10.0" textLength="12.7" lengthAdjust="spacingAndGlyphs" font-family="Liberation Serif, serif" fill="#000" fill-opacity="0.8">−5</text>
<text x="443.80" y="117.01" font-size="14" textLength="14.7" lengthAdjust="spacingAndGlyphs" font-family="Liberation Serif, serif" fill="#000" fill-opacity="0.8">10</text>
<text x="458.70" y="111.81" font-size="10.0" textLength="12.7" lengthAdjust="spacingAndGlyphs" font-family="Liberation Serif, serif" fill="#000" fill-opacity="0.8">−3</text>
<text x="443.80" y="84.24" font-size="14" textLength="14.7" lengthAdjust="spacingAndGlyphs" font-family="Liberation Serif, serif" fill="#000" fill-opacity="0.8">10</text>
<text x="458.70" y="79.04" font-size="10.0" textLength="12.7" lengthAdjust="spacingAndGlyphs" font-family="Liberation Serif, serif" fill="#000" fill-opacity="0.8">−1</text>
<text x="451.50" y="51.47" font-size="14" textLength="14.7" lengthAdjust="spacingAndGlyphs" font-family="Liberation Serif, serif" fill="#000" fill-opacity="0.8">10</text>
<text x="466.40" y="46.27" font-size="10.0" textLength="5.0" lengthAdjust="spacingAndGlyphs" font-family="Liberation Serif, serif" fill="#000" fill-opacity="0.8">1</text>
<text x="451.50" y="18.70" font-size="14" textLength="14.7" lengthAdjust="spacingAndGlyphs" font-family="Liberation Serif, serif" fill="#000" fill-opacity="0.8">10</text>
<text x="466.40" y="13.50" font-size="10.0" textLength="5.0" lengthAdjust="spacingAndGlyphs" font-family="Liberation Serif, serif" fill="#000" fill-opacity="0.8">3</text>
<text x="465.45" y="275.80" font-size="14" textLength="14.7" lengthAdjust="spacingAndGlyphs" font-family="Liberation Serif, serif" fill="#000" fill-opacity="0.8">10</text>
<text x="480.35" y="270.60" font-size="10.0" textLength="5.0" lengthAdjust="spacingAndGlyphs" font-family="Liberation Serif, serif" fill="#000" fill-opacity="0.8">9</text>
<text x="549.65" y="275.80" font-size="14" textLength="14.7" lengthAdjust="spacingAndGlyphs" font-family="Liberation Serif, serif" fill="#000" fill-opacity="0.8">10</text>
<text x="564.55" y="270.60" font-size="10.0" textLength="10.0" lengthAdjust="spacingAndGlyphs" font-family="Liberation Serif, serif" fill="#000" fill-opacity="0.8">10</text>
<text x="636.35" y="275.80" font-size="14" textLength="14.7" lengthAdjust="spacingAndGlyphs" font-family="Liberation Serif, serif" fill="#000" fill-opacity="0.8">10</text>
<text x="651.25" y="270.60" font-size="10.0" textLength="10.0" lengthAdjust="spacingAndGlyphs" font-family="Liberation Serif, serif" fill="#000" fill-opacity="0.8">11</text>
<text x="723.05" y="275.80" font-size="14" textLength="14.7" lengthAdjust="spacingAndGlyphs" font-family="Liberation Serif, serif" fill="#000" fill-opacity="0.8">10</text>
<text x="737.95" y="270.60" font-size="10.0" textLength="10.0" lengthAdjust="spacingAndGlyphs" font-family="Liberation Serif, serif" fill="#000" fill-opacity="0.8">12</text>
<text x="809.75" y="275.80" font-size="14" textLength="14.7" lengthAdjust="spacingAndGlyphs" font-family="Liberation Serif, serif" fill="#000" fill-opacity="0.8">10</text>
<text x="824.65" y="270.60" font-size="10.0" textLength="10.0" lengthAdjust="spacingAndGlyphs" font-family="Liberation Serif, serif" fill="#000" fill-opacity="0.8">13</text>
<text x="648.8" y="292.2" font-size="15.5" font-style="italic" text-anchor="middle" font-family="Liberation Serif, serif" fill="#000" fill-opacity="0.8">γ</text>
<line x1="645.8" y1="285.1" x2="650.9" y2="285.1" stroke="#000" stroke-opacity="0.8" stroke-width="0.8"/>
<text transform="translate(430.6,136.5) rotate(-90)" font-size="14" font-style="italic" text-anchor="middle" font-family="Liberation Serif, serif" fill="#000" fill-opacity="0.8">z</text>
<rect x="481.7" y="109.2" width="196.3" height="55.9" rx="2.2" fill="#fff" fill-opacity="0.8" stroke="#ccc" stroke-opacity="0.6" stroke-width="1"/>
<text x="507" y="122" font-size="13" textLength="146" lengthAdjust="spacingAndGlyphs" font-family="Liberation Serif, serif" fill="#000" fill-opacity="0.8"><tspan font-style="italic">m</tspan><tspan font-size="9.8" dy="2.2">1<tspan font-style="italic">z</tspan></tspan><tspan dy="-2.2"> = 30</tspan><tspan font-style="italic">M</tspan><tspan font-size="9.8" dy="2.2">⊙</tspan><tspan dy="-2.2">, </tspan><tspan font-style="italic">f</tspan><tspan font-size="9.8" dy="2.2">min</tspan><tspan dy="-2.2"> = 30Hz</tspan></text>
<line x1="486.7" y1="136.2" x2="512.1" y2="136.2" stroke="#1f77b4" stroke-width="1.9" stroke-dasharray="10.9 2.7 1.75 2.7"/>
<line x1="486.5" y1="153.6" x2="512.8" y2="153.6" stroke="#ff7f0e" stroke-width="1.9"/>
<line x1="591.5" y1="136.2" x2="618" y2="136.2" stroke="#d62728" stroke-width="1.9"/>
<line x1="592" y1="153.6" x2="617.2" y2="153.6" stroke="#2ca02c" stroke-width="1.9" stroke-dasharray="6.4 2.7"/>
<text x="522.5" y="138.3" font-size="13" font-family="Liberation Serif, serif" fill="#000" fill-opacity="0.8" textLength="21.5" lengthAdjust="spacingAndGlyphs"><tspan font-style="italic">z</tspan><tspan font-size="9.8" dy="2.6">mix</tspan></text>
<text x="522.5" y="155.7" font-size="13" font-family="Liberation Serif, serif" fill="#000" fill-opacity="0.8" textLength="45" lengthAdjust="spacingAndGlyphs"><tspan font-style="italic">z</tspan><tspan font-size="9.8" dy="2.6">broad,1<tspan font-style="italic">L</tspan></tspan></text>
<text x="628" y="138.3" font-size="13" font-family="Liberation Serif, serif" fill="#000" fill-opacity="0.8" textLength="45" lengthAdjust="spacingAndGlyphs"><tspan font-style="italic">z</tspan><tspan font-size="9.8" dy="2.6">broad,2<tspan font-style="italic">L</tspan></tspan></text>
<text x="628" y="155.7" font-size="13" font-family="Liberation Serif, serif" fill="#000" fill-opacity="0.8" textLength="20" lengthAdjust="spacingAndGlyphs"><tspan font-style="italic">z</tspan><tspan font-size="9.8" dy="2.6">coh</tspan></text>
</svg>
</body></html>
